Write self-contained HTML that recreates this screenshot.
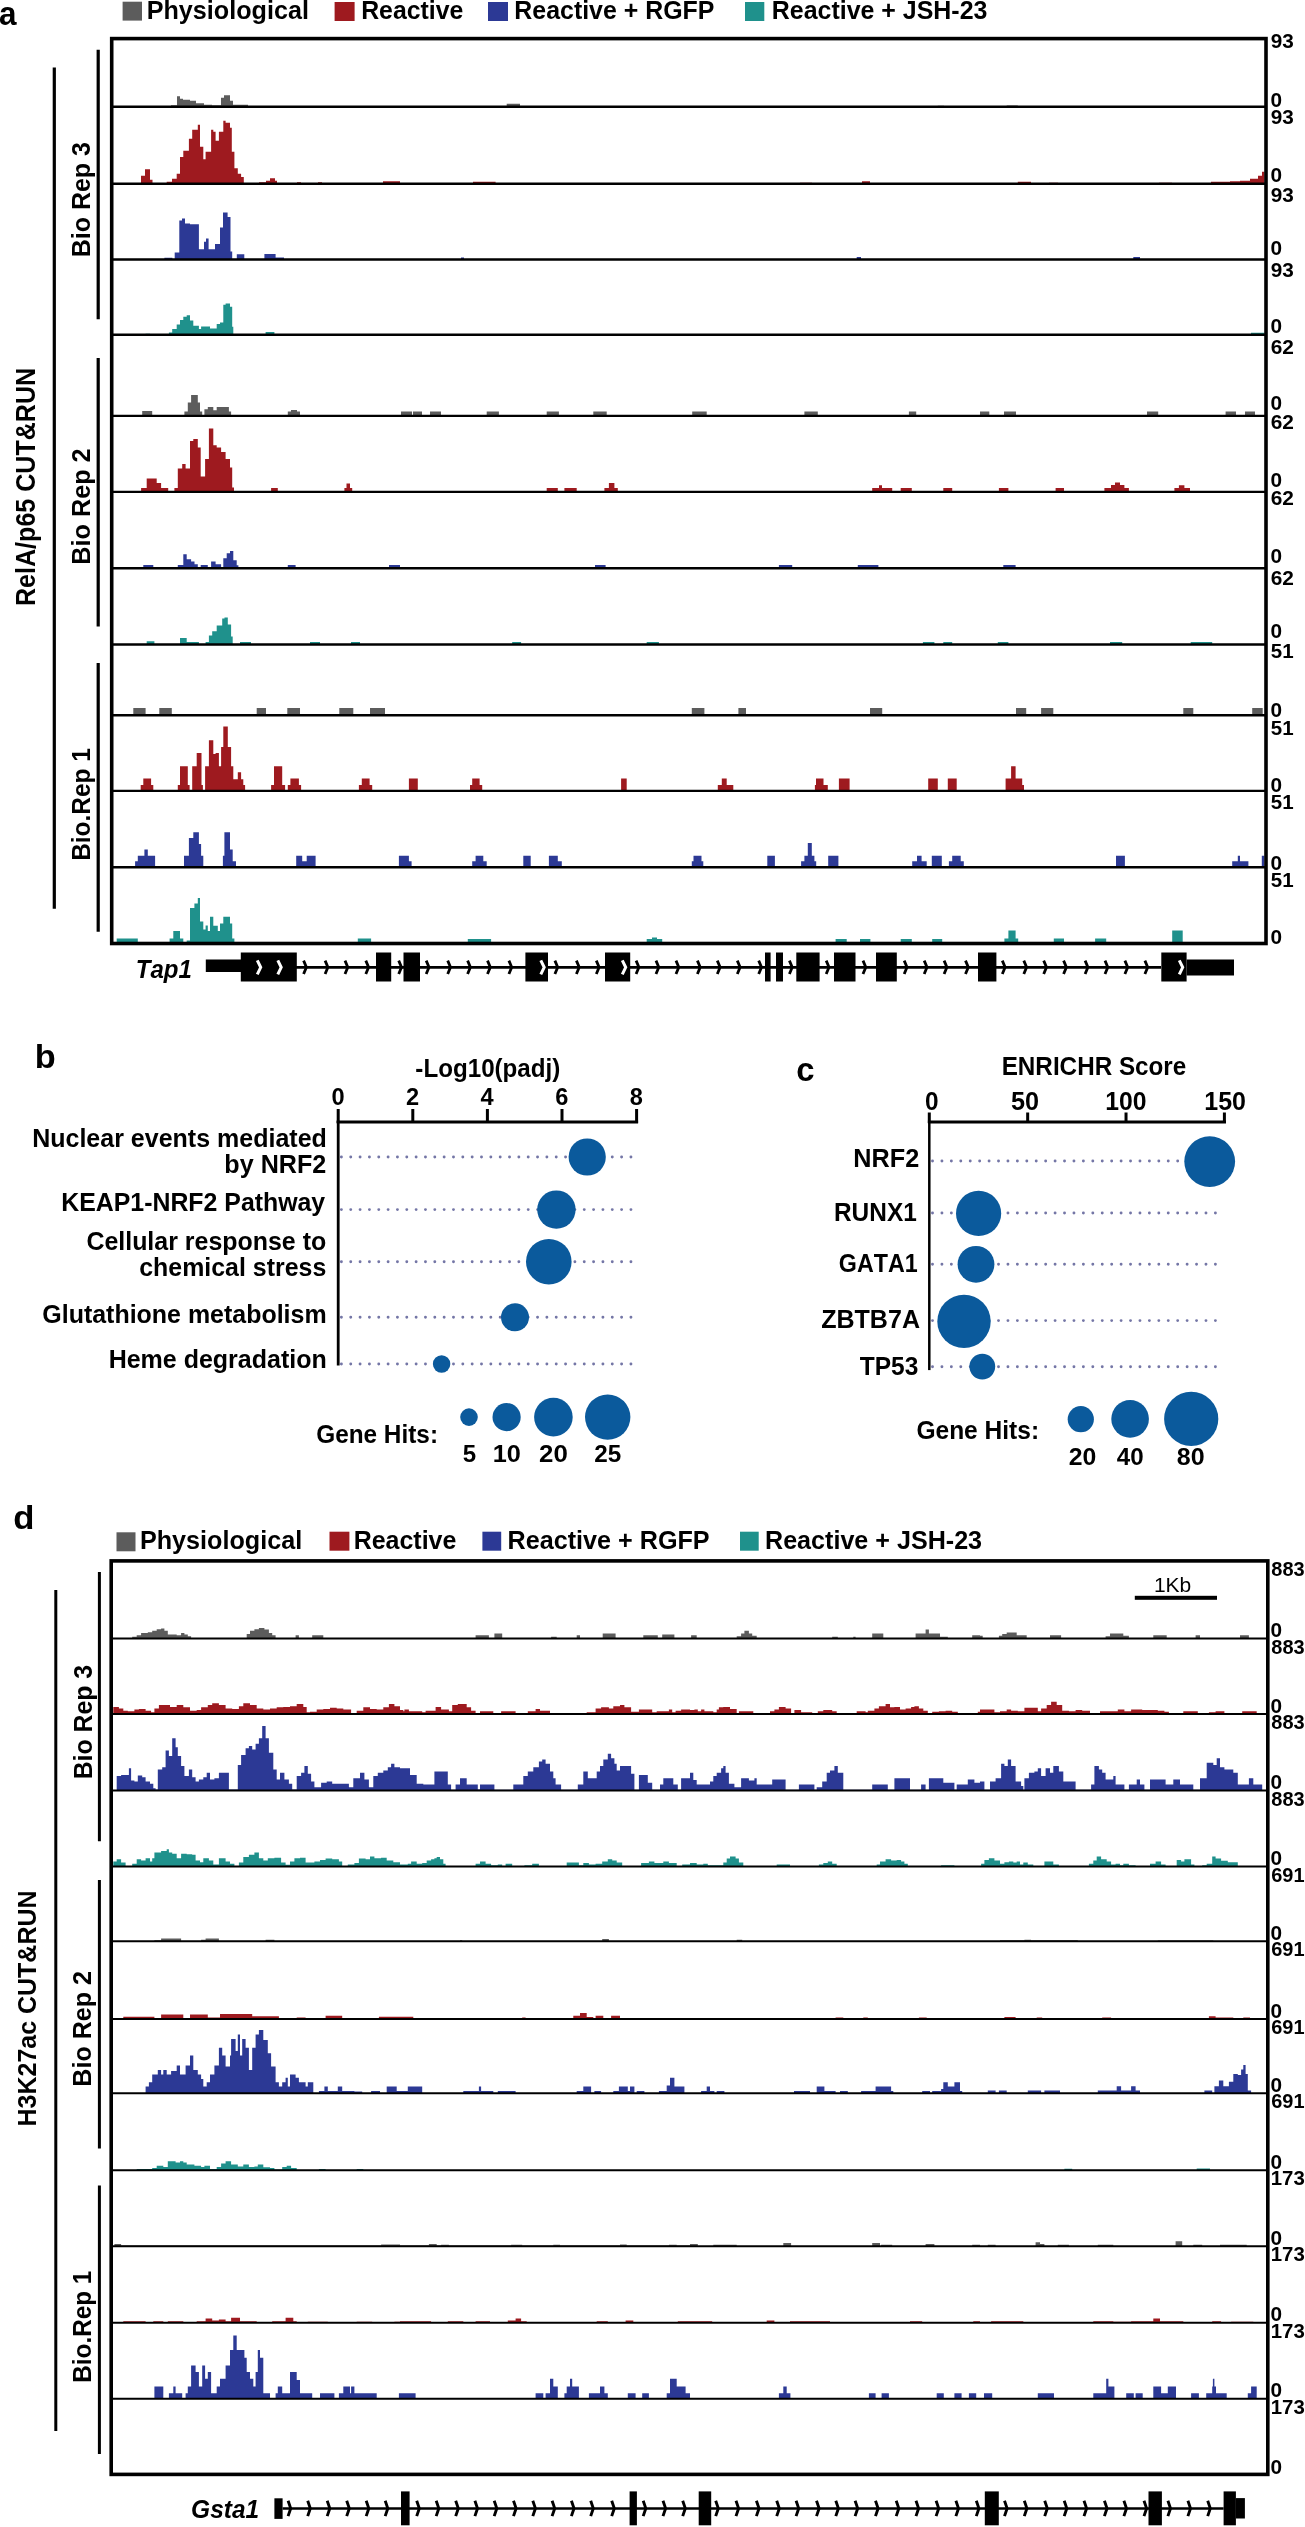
<!DOCTYPE html>
<html><head><meta charset="utf-8"><title>Figure</title>
<style>html,body{margin:0;padding:0;background:#fff;}svg{display:block;}text{font-family:"Liberation Sans",sans-serif;font-kerning:none;}</style>
</head><body>
<svg style="will-change:transform" width="1305" height="2527" viewBox="0 0 1305 2527">
<rect width="1305" height="2527" fill="#fff"/>
<text transform="translate(-0.92,25.00) scale(0.9405,1)" font-size="33.5" font-weight="bold" font-style="normal" fill="#000">a</text>
<rect x="122.60" y="1.70" width="19.40" height="18.90" fill="#5c5c5c"/>
<rect x="334.60" y="2.00" width="20.00" height="19.00" fill="#9e1a1f"/>
<rect x="488.00" y="2.00" width="20.00" height="19.00" fill="#2c3995"/>
<rect x="745.00" y="2.00" width="19.30" height="19.00" fill="#1f918c"/>
<text transform="translate(146.72,18.85) scale(0.9871,1)" font-size="25.5" font-weight="bold" font-style="normal" fill="#000">Physiological</text>
<text transform="translate(361.14,18.85) scale(0.9744,1)" font-size="25.5" font-weight="bold" font-style="normal" fill="#000">Reactive</text>
<text transform="translate(514.33,18.85) scale(0.9777,1)" font-size="25.5" font-weight="bold" font-style="normal" fill="#000">Reactive + RGFP</text>
<text transform="translate(771.83,18.85) scale(0.9780,1)" font-size="25.5" font-weight="bold" font-style="normal" fill="#000">Reactive + JSH-23</text>
<path d="M171.0 106.7V105.2H177.0V106.7ZM177.0 106.7V96.2H180.0V106.7ZM180.0 106.7V98.7H183.0V106.7ZM183.0 106.7V99.7H190.0V106.7ZM190.0 106.7V100.7H196.0V106.7ZM196.0 106.7V103.2H204.0V106.7ZM204.0 106.7V104.7H212.0V106.7ZM212.0 106.7V105.2H221.0V106.7ZM221.0 106.7V97.7H224.0V106.7ZM224.0 106.7V95.2H230.0V106.7ZM230.0 106.7V100.7H233.0V106.7ZM233.0 106.7V104.7H248.0V106.7ZM506.7 106.7V103.7H520.0V106.7ZM937.8 106.7V105.7H944.0V106.7ZM1006.7 106.7V105.5H1017.8V106.7ZM148.0 106.7V105.9H153.0V106.7Z" fill="#5c5c5c"/>
<path d="M141.0 183.7V175.7H145.0V183.7ZM145.0 183.7V169.3H150.0V183.7ZM150.0 183.7V179.7H152.5V183.7ZM166.7 183.7V181.7H172.0V183.7ZM172.0 183.7V178.7H176.7V183.7ZM176.7 183.7V173.7H180.0V183.7ZM180.0 183.7V157.0H183.3V183.7ZM183.3 183.7V150.7H188.9V183.7ZM188.9 183.7V138.7H192.2V183.7ZM192.2 183.7V129.7H197.8V183.7ZM197.8 183.7V124.7H200.0V183.7ZM200.0 183.7V146.7H203.3V183.7ZM203.3 183.7V159.3H205.6V183.7ZM205.6 183.7V151.7H211.1V183.7ZM211.1 183.7V129.7H213.3V183.7ZM213.3 183.7V131.7H215.6V183.7ZM215.6 183.7V140.7H218.9V183.7ZM218.9 183.7V131.7H223.3V183.7ZM223.3 183.7V120.7H225.6V183.7ZM225.6 183.7V122.7H230.0V183.7ZM230.0 183.7V127.7H231.8V183.7ZM231.8 183.7V151.7H234.4V183.7ZM234.4 183.7V168.2H237.8V183.7ZM237.8 183.7V173.7H241.1V183.7ZM241.1 183.7V177.0H243.8V183.7ZM259.0 183.7V182.2H266.0V183.7ZM266.0 183.7V180.7H270.0V183.7ZM270.0 183.7V178.2H275.0V183.7ZM275.0 183.7V180.7H277.0V183.7ZM297.0 183.7V182.2H301.0V183.7ZM318.0 183.7V182.2H322.0V183.7ZM383.0 183.7V181.2H400.0V183.7ZM473.0 183.7V181.7H495.6V183.7ZM800.0 183.7V182.7H812.0V183.7ZM862.0 183.7V181.2H870.0V183.7ZM1017.8 183.7V181.7H1031.0V183.7ZM1049.0 183.7V182.7H1058.0V183.7ZM1159.0 183.7V182.7H1172.0V183.7ZM1211.0 183.7V181.7H1230.0V183.7ZM1230.0 183.7V181.2H1240.0V183.7ZM1240.0 183.7V180.7H1250.0V183.7ZM1250.0 183.7V178.7H1258.0V183.7ZM1258.0 183.7V175.7H1262.0V183.7ZM1262.0 183.7V171.7H1264.5V183.7Z" fill="#9e1a1f"/>
<path d="M164.4 259.5V257.8H172.4V259.5ZM174.7 259.5V252.6H179.3V259.5ZM179.3 259.5V220.5H182.0V259.5ZM182.0 259.5V218.5H185.0V259.5ZM185.0 259.5V223.5H190.0V259.5ZM190.0 259.5V224.2H198.9V259.5ZM198.9 259.5V249.2H204.0V259.5ZM204.0 259.5V241.7H206.0V259.5ZM206.0 259.5V238.5H208.6V259.5ZM208.6 259.5V249.2H215.0V259.5ZM215.0 259.5V244.0H220.0V259.5ZM220.0 259.5V227.5H223.0V259.5ZM223.0 259.5V212.5H227.6V259.5ZM227.6 259.5V217.0H230.5V259.5ZM230.5 259.5V251.5H232.2V259.5ZM236.8 259.5V254.3H244.3V259.5ZM264.4 259.5V254.0H275.6V259.5ZM275.6 259.5V257.5H284.0V259.5ZM461.0 259.5V257.5H464.0V259.5ZM856.7 259.5V257.0H861.0V259.5ZM1133.3 259.5V257.0H1140.0V259.5Z" fill="#2c3995"/>
<path d="M145.6 334.8V333.8H150.0V334.8ZM168.9 334.8V332.4H172.2V334.8ZM172.2 334.8V329.0H176.7V334.8ZM176.7 334.8V324.6H180.0V334.8ZM180.0 334.8V320.1H183.3V334.8ZM183.3 334.8V316.8H186.7V334.8ZM186.7 334.8V315.3H190.0V334.8ZM190.0 334.8V320.6H193.3V334.8ZM193.3 334.8V325.8H198.9V334.8ZM198.9 334.8V329.0H201.1V334.8ZM201.1 334.8V326.4H210.0V334.8ZM210.0 334.8V328.6H216.7V334.8ZM216.7 334.8V324.1H220.0V334.8ZM220.0 334.8V322.4H223.3V334.8ZM223.3 334.8V304.8H225.6V334.8ZM225.6 334.8V303.5H230.0V334.8ZM230.0 334.8V306.8H232.2V334.8ZM232.2 334.8V326.8H233.3V334.8ZM265.6 334.8V332.0H274.4V334.8ZM1251.0 334.8V332.8H1264.5V334.8Z" fill="#1f918c"/>
<path d="M142.2 415.9V411.0H152.2V415.9ZM184.4 415.9V411.5H187.8V415.9ZM187.8 415.9V402.6H191.1V415.9ZM191.1 415.9V394.9H197.8V415.9ZM197.8 415.9V402.6H200.0V415.9ZM200.0 415.9V411.5H202.2V415.9ZM204.4 415.9V409.2H207.8V415.9ZM207.8 415.9V407.0H213.3V415.9ZM213.3 415.9V410.3H216.7V415.9ZM216.7 415.9V407.0H228.9V415.9ZM228.9 415.9V411.5H231.1V415.9ZM287.8 415.9V411.5H300.0V415.9ZM291.0 415.9V409.9H297.0V415.9ZM401.0 415.9V411.5H412.0V415.9ZM413.0 415.9V411.5H422.0V415.9ZM430.0 415.9V411.5H441.0V415.9ZM486.7 415.9V411.5H498.9V415.9ZM546.7 415.9V411.5H558.9V415.9ZM593.3 415.9V411.5H606.7V415.9ZM692.2 415.9V411.5H706.7V415.9ZM804.4 415.9V411.5H817.8V415.9ZM908.9 415.9V411.5H916.2V415.9ZM980.0 415.9V411.5H989.3V415.9ZM1004.0 415.9V411.5H1016.0V415.9ZM1147.0 415.9V411.5H1158.2V415.9ZM1225.6 415.9V411.5H1236.0V415.9ZM1245.0 415.9V411.5H1255.0V415.9Z" fill="#5c5c5c"/>
<path d="M141.1 491.9V487.9H146.7V491.9ZM146.7 491.9V478.6H156.7V491.9ZM156.7 491.9V483.0H161.1V491.9ZM161.1 491.9V487.9H168.2V491.9ZM174.4 491.9V487.9H177.8V491.9ZM177.8 491.9V468.6H182.2V491.9ZM182.2 491.9V464.1H185.6V491.9ZM185.6 491.9V468.6H190.0V491.9ZM190.0 491.9V440.9H193.3V491.9ZM193.3 491.9V438.9H197.8V491.9ZM197.8 491.9V447.5H200.7V491.9ZM200.7 491.9V476.4H205.1V491.9ZM205.1 491.9V458.9H208.9V491.9ZM208.9 491.9V428.6H213.3V491.9ZM213.3 491.9V445.2H216.7V491.9ZM216.7 491.9V447.5H221.1V491.9ZM221.1 491.9V451.9H225.6V491.9ZM225.6 491.9V458.9H230.0V491.9ZM230.0 491.9V467.5H232.2V491.9ZM232.2 491.9V487.5H234.0V491.9ZM271.1 491.9V487.9H277.8V491.9ZM344.4 491.9V487.9H352.2V491.9ZM346.5 491.9V483.5H350.0V491.9ZM546.7 491.9V487.9H557.8V491.9ZM564.4 491.9V487.9H576.7V491.9ZM604.4 491.9V487.9H617.8V491.9ZM872.2 491.9V487.9H892.2V491.9ZM900.7 491.9V487.9H911.8V491.9ZM943.3 491.9V487.9H952.2V491.9ZM998.9 491.9V487.9H1008.4V491.9ZM1055.6 491.9V487.9H1064.0V491.9ZM1104.4 491.9V487.9H1128.9V491.9ZM1174.4 491.9V487.9H1190.0V491.9ZM608.9 491.9V483.0H614.4V491.9ZM879.0 491.9V485.2H882.0V491.9ZM1111.0 491.9V484.9H1124.4V491.9ZM1115.0 491.9V482.4H1120.0V491.9ZM1178.9 491.9V485.2H1184.4V491.9Z" fill="#9e1a1f"/>
<path d="M143.3 568.3V565.0H153.3V568.3ZM177.8 568.3V565.0H183.3V568.3ZM183.3 568.3V554.3H186.7V568.3ZM186.7 568.3V559.3H191.1V568.3ZM191.1 568.3V561.6H194.5V568.3ZM194.5 568.3V564.3H197.8V568.3ZM200.7 568.3V565.0H207.8V568.3ZM211.1 568.3V561.6H215.6V568.3ZM215.6 568.3V564.3H221.1V568.3ZM223.3 568.3V558.3H226.7V568.3ZM226.7 568.3V553.3H230.0V568.3ZM230.0 568.3V551.0H233.3V568.3ZM233.3 568.3V560.3H236.7V568.3ZM236.7 568.3V565.3H238.4V568.3ZM287.8 568.3V565.0H295.6V568.3ZM389.0 568.3V565.0H400.0V568.3ZM595.0 568.3V565.0H605.6V568.3ZM778.9 568.3V565.0H792.2V568.3ZM857.8 568.3V565.0H878.4V568.3ZM1003.3 568.3V565.0H1015.6V568.3Z" fill="#2c3995"/>
<path d="M146.7 644.5V641.2H154.4V644.5ZM180.0 644.5V638.1H186.7V644.5ZM186.7 644.5V642.0H198.9V644.5ZM205.6 644.5V642.0H208.9V644.5ZM208.9 644.5V635.6H212.2V644.5ZM212.2 644.5V631.2H216.7V644.5ZM216.7 644.5V625.5H222.2V644.5ZM222.2 644.5V618.5H224.5V644.5ZM224.5 644.5V617.5H227.8V644.5ZM227.8 644.5V624.5H231.1V644.5ZM231.1 644.5V636.5H232.7V644.5ZM240.0 644.5V642.0H251.0V644.5ZM310.0 644.5V642.0H320.0V644.5ZM351.0 644.5V642.0H360.0V644.5ZM512.2 644.5V642.0H521.1V644.5ZM646.7 644.5V642.0H658.9V644.5ZM922.9 644.5V642.0H934.4V644.5ZM943.3 644.5V642.0H952.2V644.5ZM997.8 644.5V642.0H1008.4V644.5ZM1110.0 644.5V642.0H1122.2V644.5ZM1190.7 644.5V642.0H1212.2V644.5Z" fill="#1f918c"/>
<path d="M133.3 715.2V707.9H145.6V715.2ZM159.3 715.2V707.9H171.8V715.2ZM256.7 715.2V707.9H266.0V715.2ZM287.3 715.2V707.9H300.0V715.2ZM339.3 715.2V707.9H353.3V715.2ZM370.0 715.2V707.9H385.0V715.2ZM691.8 715.2V707.9H704.4V715.2ZM738.4 715.2V707.9H746.0V715.2ZM870.0 715.2V707.9H882.2V715.2ZM1016.0 715.2V707.9H1026.2V715.2ZM1041.1 715.2V707.9H1053.3V715.2ZM1183.3 715.2V707.9H1193.3V715.2ZM1252.2 715.2V707.9H1262.7V715.2Z" fill="#5c5c5c"/>
<path d="M140.7 790.9V785.1H143.3V790.9ZM143.3 790.9V778.5H151.1V790.9ZM151.1 790.9V785.1H153.3V790.9ZM177.8 790.9V785.1H180.0V790.9ZM180.0 790.9V766.2H187.8V790.9ZM187.8 790.9V785.1H189.6V790.9ZM192.2 790.9V766.2H196.7V790.9ZM196.7 790.9V752.9H201.5V790.9ZM201.5 790.9V785.1H202.9V790.9ZM205.1 790.9V766.2H208.9V790.9ZM208.9 790.9V740.2H213.3V790.9ZM213.3 790.9V753.9H215.6V790.9ZM215.6 790.9V752.9H218.9V790.9ZM218.9 790.9V766.2H221.1V790.9ZM221.1 790.9V746.9H223.3V790.9ZM223.3 790.9V726.5H227.8V790.9ZM227.8 790.9V746.9H231.1V790.9ZM231.1 790.9V766.2H233.3V790.9ZM233.3 790.9V779.3H237.8V790.9ZM237.8 790.9V772.2H241.1V790.9ZM241.1 790.9V779.3H243.3V790.9ZM243.3 790.9V785.1H245.1V790.9ZM271.1 790.9V785.1H274.0V790.9ZM274.0 790.9V766.2H282.2V790.9ZM282.2 790.9V785.1H285.1V790.9ZM287.8 790.9V785.1H290.4V790.9ZM290.4 790.9V778.5H298.9V790.9ZM298.9 790.9V785.1H301.1V790.9ZM358.9 790.9V785.1H361.8V790.9ZM361.8 790.9V778.5H369.6V790.9ZM369.6 790.9V785.1H372.2V790.9ZM408.9 790.9V778.5H417.8V790.9ZM470.0 790.9V785.1H472.2V790.9ZM472.2 790.9V778.5H479.6V790.9ZM479.6 790.9V785.1H482.2V790.9ZM621.1 790.9V778.5H626.7V790.9ZM717.8 790.9V785.1H721.8V790.9ZM721.8 790.9V778.5H726.7V790.9ZM726.7 790.9V785.1H733.3V790.9ZM814.9 790.9V785.1H816.0V790.9ZM816.0 790.9V778.5H823.5V790.9ZM823.5 790.9V785.1H827.8V790.9ZM838.9 790.9V778.5H849.6V790.9ZM928.2 790.9V778.5H937.8V790.9ZM947.8 790.9V778.5H956.7V790.9ZM1005.6 790.9V778.5H1011.1V790.9ZM1011.1 790.9V766.2H1015.6V790.9ZM1015.6 790.9V778.5H1022.2V790.9ZM1022.2 790.9V785.1H1024.0V790.9Z" fill="#9e1a1f"/>
<path d="M135.1 867.3V861.3H137.8V867.3ZM137.8 867.3V855.7H144.4V867.3ZM144.4 867.3V849.5H147.8V867.3ZM147.8 867.3V855.7H155.1V867.3ZM184.0 867.3V855.7H188.9V867.3ZM188.9 867.3V838.0H193.3V867.3ZM193.3 867.3V832.3H198.9V867.3ZM198.9 867.3V844.0H201.1V867.3ZM201.1 867.3V855.7H203.3V867.3ZM222.9 867.3V855.7H224.4V867.3ZM224.4 867.3V832.3H230.0V867.3ZM230.0 867.3V849.5H232.7V867.3ZM232.7 867.3V861.3H236.0V867.3ZM296.2 867.3V855.7H302.2V867.3ZM302.2 867.3V861.3H306.7V867.3ZM306.7 867.3V855.7H315.6V867.3ZM398.9 867.3V855.7H408.9V867.3ZM408.9 867.3V861.3H411.6V867.3ZM472.2 867.3V861.3H475.6V867.3ZM475.6 867.3V855.7H483.3V867.3ZM483.3 867.3V861.3H486.7V867.3ZM523.3 867.3V855.7H530.7V867.3ZM548.9 867.3V855.7H557.8V867.3ZM557.8 867.3V861.3H561.8V867.3ZM691.8 867.3V861.3H693.5V867.3ZM693.5 867.3V855.7H701.5V867.3ZM701.5 867.3V861.3H703.3V867.3ZM767.3 867.3V855.7H774.9V867.3ZM801.1 867.3V861.3H804.4V867.3ZM804.4 867.3V855.7H807.8V867.3ZM807.8 867.3V843.1H811.8V867.3ZM811.8 867.3V855.7H814.4V867.3ZM814.4 867.3V861.3H816.2V867.3ZM828.2 867.3V855.7H838.4V867.3ZM912.2 867.3V861.3H917.0V867.3ZM917.0 867.3V855.7H921.6V867.3ZM921.6 867.3V861.3H926.7V867.3ZM931.8 867.3V855.7H941.8V867.3ZM948.9 867.3V861.3H952.2V867.3ZM952.2 867.3V855.7H960.7V867.3ZM960.7 867.3V861.3H963.8V867.3ZM1116.0 867.3V855.7H1124.9V867.3ZM1232.2 867.3V861.3H1248.4V867.3ZM1237.8 867.3V855.7H1240.0V867.3ZM1261.8 867.3V855.7H1264.4V867.3Z" fill="#2c3995"/>
<path d="M116.7 943.5V938.4H137.8V943.5ZM169.6 943.5V938.5H173.3V943.5ZM173.3 943.5V931.1H180.0V943.5ZM180.0 943.5V938.5H183.3V943.5ZM186.7 943.5V940.5H190.0V943.5ZM190.0 943.5V907.9H194.4V943.5ZM194.4 943.5V903.5H197.8V943.5ZM197.8 943.5V897.9H200.0V943.5ZM200.0 943.5V921.5H203.3V943.5ZM203.3 943.5V929.5H205.6V943.5ZM205.6 943.5V925.5H207.8V943.5ZM207.8 943.5V931.1H210.0V943.5ZM210.0 943.5V916.8H213.3V943.5ZM213.3 943.5V925.7H217.8V943.5ZM217.8 943.5V931.1H220.0V943.5ZM220.0 943.5V923.5H223.3V943.5ZM223.3 943.5V916.8H230.0V943.5ZM230.0 943.5V923.5H232.2V943.5ZM232.2 943.5V938.5H234.4V943.5ZM357.8 943.5V938.5H371.1V943.5ZM467.8 943.5V939.0H491.1V943.5ZM646.7 943.5V939.0H662.2V943.5ZM652.0 943.5V937.5H657.0V943.5ZM835.6 943.5V939.0H846.7V943.5ZM860.0 943.5V939.0H870.4V943.5ZM900.7 943.5V939.0H911.8V943.5ZM932.2 943.5V939.0H942.2V943.5ZM1004.4 943.5V938.5H1008.4V943.5ZM1008.4 943.5V930.6H1015.6V943.5ZM1015.6 943.5V938.5H1018.2V943.5ZM1053.8 943.5V938.5H1064.0V943.5ZM1095.1 943.5V938.5H1106.2V943.5ZM1172.2 943.5V930.6H1182.7V943.5Z" fill="#1f918c"/>
<line x1="111.70" y1="106.70" x2="1266.00" y2="106.70" stroke="#000" stroke-width="2.4" />
<line x1="111.70" y1="183.70" x2="1266.00" y2="183.70" stroke="#000" stroke-width="2.4" />
<line x1="111.70" y1="259.50" x2="1266.00" y2="259.50" stroke="#000" stroke-width="2.4" />
<line x1="111.70" y1="334.80" x2="1266.00" y2="334.80" stroke="#000" stroke-width="2.4" />
<line x1="111.70" y1="415.90" x2="1266.00" y2="415.90" stroke="#000" stroke-width="2.4" />
<line x1="111.70" y1="491.90" x2="1266.00" y2="491.90" stroke="#000" stroke-width="2.4" />
<line x1="111.70" y1="568.30" x2="1266.00" y2="568.30" stroke="#000" stroke-width="2.4" />
<line x1="111.70" y1="644.50" x2="1266.00" y2="644.50" stroke="#000" stroke-width="2.4" />
<line x1="111.70" y1="715.20" x2="1266.00" y2="715.20" stroke="#000" stroke-width="2.4" />
<line x1="111.70" y1="790.90" x2="1266.00" y2="790.90" stroke="#000" stroke-width="2.4" />
<line x1="111.70" y1="867.30" x2="1266.00" y2="867.30" stroke="#000" stroke-width="2.4" />
<rect x="111.7" y="38.6" width="1154.30" height="904.90" fill="none" stroke="#000" stroke-width="3.6"/>
<text transform="translate(1270.68,48.46) scale(0.9876,1)" font-size="21" font-weight="bold" font-style="normal" fill="#000">93</text>
<text transform="translate(1270.38,106.56) scale(0.9913,1)" font-size="21" font-weight="bold" font-style="normal" fill="#000">0</text>
<text transform="translate(1270.68,124.06) scale(0.9876,1)" font-size="21" font-weight="bold" font-style="normal" fill="#000">93</text>
<text transform="translate(1270.38,181.76) scale(0.9913,1)" font-size="21" font-weight="bold" font-style="normal" fill="#000">0</text>
<text transform="translate(1270.68,201.96) scale(0.9876,1)" font-size="21" font-weight="bold" font-style="normal" fill="#000">93</text>
<text transform="translate(1270.38,254.86) scale(0.9913,1)" font-size="21" font-weight="bold" font-style="normal" fill="#000">0</text>
<text transform="translate(1270.68,276.96) scale(0.9876,1)" font-size="21" font-weight="bold" font-style="normal" fill="#000">93</text>
<text transform="translate(1270.38,332.96) scale(0.9913,1)" font-size="21" font-weight="bold" font-style="normal" fill="#000">0</text>
<text transform="translate(1270.64,353.86) scale(0.9932,1)" font-size="21" font-weight="bold" font-style="normal" fill="#000">62</text>
<text transform="translate(1270.38,409.86) scale(0.9913,1)" font-size="21" font-weight="bold" font-style="normal" fill="#000">0</text>
<text transform="translate(1270.64,429.26) scale(0.9932,1)" font-size="21" font-weight="bold" font-style="normal" fill="#000">62</text>
<text transform="translate(1270.38,486.76) scale(0.9913,1)" font-size="21" font-weight="bold" font-style="normal" fill="#000">0</text>
<text transform="translate(1270.64,505.06) scale(0.9932,1)" font-size="21" font-weight="bold" font-style="normal" fill="#000">62</text>
<text transform="translate(1270.38,563.26) scale(0.9913,1)" font-size="21" font-weight="bold" font-style="normal" fill="#000">0</text>
<text transform="translate(1270.64,585.26) scale(0.9932,1)" font-size="21" font-weight="bold" font-style="normal" fill="#000">62</text>
<text transform="translate(1270.38,637.96) scale(0.9913,1)" font-size="21" font-weight="bold" font-style="normal" fill="#000">0</text>
<text transform="translate(1270.77,658.46) scale(0.9761,1)" font-size="21" font-weight="bold" font-style="normal" fill="#000">51</text>
<text transform="translate(1270.38,716.76) scale(0.9913,1)" font-size="21" font-weight="bold" font-style="normal" fill="#000">0</text>
<text transform="translate(1270.77,734.86) scale(0.9761,1)" font-size="21" font-weight="bold" font-style="normal" fill="#000">51</text>
<text transform="translate(1270.38,791.76) scale(0.9913,1)" font-size="21" font-weight="bold" font-style="normal" fill="#000">0</text>
<text transform="translate(1270.77,808.86) scale(0.9761,1)" font-size="21" font-weight="bold" font-style="normal" fill="#000">51</text>
<text transform="translate(1270.38,869.96) scale(0.9913,1)" font-size="21" font-weight="bold" font-style="normal" fill="#000">0</text>
<text transform="translate(1270.77,886.86) scale(0.9761,1)" font-size="21" font-weight="bold" font-style="normal" fill="#000">51</text>
<text transform="translate(1270.38,943.96) scale(0.9913,1)" font-size="21" font-weight="bold" font-style="normal" fill="#000">0</text>
<line x1="54.30" y1="67.60" x2="54.30" y2="908.70" stroke="#000" stroke-width="3.2" />
<line x1="98.20" y1="49.80" x2="98.20" y2="319.30" stroke="#000" stroke-width="3.2" />
<line x1="98.20" y1="358.00" x2="98.20" y2="626.40" stroke="#000" stroke-width="3.2" />
<line x1="98.20" y1="663.00" x2="98.20" y2="931.70" stroke="#000" stroke-width="3.2" />
<text transform="translate(35.20,605.98) rotate(-90) scale(0.9358,1)" font-size="26.8" font-weight="bold">RelA/p65 CUT&RUN</text>
<text transform="translate(90.10,257.27) rotate(-90) scale(0.9605,1)" font-size="26" font-weight="bold">Bio Rep 3</text>
<text transform="translate(90.10,564.69) rotate(-90) scale(0.9699,1)" font-size="26" font-weight="bold">Bio Rep 2</text>
<text transform="translate(90.00,860.83) rotate(-90) scale(0.9400,1)" font-size="26" font-weight="bold">Bio.Rep 1</text>
<text transform="translate(135.80,978.40) scale(0.9243,1)" font-size="26" font-weight="bold" font-style="italic" fill="#000">Tap1</text>
<line x1="241.00" y1="967.40" x2="1161.00" y2="967.40" stroke="#000" stroke-width="2.9" />
<rect x="205.80" y="959.50" width="35.20" height="12.50" fill="#000"/>
<rect x="1186.60" y="959.50" width="47.40" height="16.00" fill="#000"/>
<rect x="240.80" y="952.50" width="56.00" height="29.00" fill="#000"/>
<rect x="376.00" y="952.50" width="15.20" height="29.00" fill="#000"/>
<rect x="403.50" y="952.50" width="16.50" height="29.00" fill="#000"/>
<rect x="525.40" y="952.50" width="22.60" height="29.00" fill="#000"/>
<rect x="605.00" y="952.50" width="25.20" height="29.00" fill="#000"/>
<rect x="765.00" y="952.50" width="5.60" height="29.00" fill="#000"/>
<rect x="776.00" y="952.50" width="7.00" height="29.00" fill="#000"/>
<rect x="796.30" y="952.50" width="23.30" height="29.00" fill="#000"/>
<rect x="834.00" y="952.50" width="21.50" height="29.00" fill="#000"/>
<rect x="876.00" y="952.50" width="20.80" height="29.00" fill="#000"/>
<rect x="978.00" y="952.50" width="18.40" height="29.00" fill="#000"/>
<rect x="1161.30" y="952.50" width="25.30" height="29.00" fill="#000"/>
<path d="M303.6 960.6L306.4 967.3L303.6 974.0M325.1 960.6L327.9 967.3L325.1 974.0M345.0 960.6L347.8 967.3L345.0 974.0M365.8 960.6L368.6 967.3L365.8 974.0M398.7 960.6L401.5 967.3L398.7 974.0M426.2 960.6L429.0 967.3L426.2 974.0M447.7 960.6L450.5 967.3L447.7 974.0M467.6 960.6L470.4 967.3L467.6 974.0M487.5 960.6L490.3 967.3L487.5 974.0M508.9 960.6L511.7 967.3L508.9 974.0M554.9 960.6L557.7 967.3L554.9 974.0M576.4 960.6L579.2 967.3L576.4 974.0M596.3 960.6L599.1 967.3L596.3 974.0M636.1 960.6L638.9 967.3L636.1 974.0M656.0 960.6L658.8 967.3L656.0 974.0M676.0 960.6L678.8 967.3L676.0 974.0M697.4 960.6L700.2 967.3L697.4 974.0M717.3 960.6L720.1 967.3L717.3 974.0M737.3 960.6L740.1 967.3L737.3 974.0M758.7 960.6L761.5 967.3L758.7 974.0M789.4 960.6L792.2 967.3L789.4 974.0M826.2 960.6L829.0 967.3L826.2 974.0M863.0 960.6L865.8 967.3L863.0 974.0M904.2 960.6L907.0 967.3L904.2 974.0M924.2 960.6L927.0 967.3L924.2 974.0M944.1 960.6L946.9 967.3L944.1 974.0M965.5 960.6L968.3 967.3L965.5 974.0M1002.3 960.6L1005.1 967.3L1002.3 974.0M1023.8 960.6L1026.6 967.3L1023.8 974.0M1043.7 960.6L1046.5 967.3L1043.7 974.0M1063.6 960.6L1066.4 967.3L1063.6 974.0M1085.1 960.6L1087.9 967.3L1085.1 974.0M1105.0 960.6L1107.8 967.3L1105.0 974.0M1124.9 960.6L1127.7 967.3L1124.9 974.0M1144.9 960.6L1147.7 967.3L1144.9 974.0" fill="none" stroke="#000" stroke-width="2.8" stroke-linejoin="miter" stroke-linecap="butt"/>
<path d="M257.3 960.3L260.7 967.3L257.3 974.3M277.8 960.3L281.2 967.3L277.8 974.3M540.8 960.3L544.2 967.3L540.8 974.3M622.3 960.3L625.7 967.3L622.3 974.3M1179.3 960.3L1182.7 967.3L1179.3 974.3" fill="none" stroke="#fff" stroke-width="3.0" stroke-linejoin="miter" stroke-linecap="butt"/>
<text transform="translate(34.74,1068.20) scale(1.0248,1)" font-size="33.5" font-weight="bold" font-style="normal" fill="#000">b</text>
<text transform="translate(415.36,1076.50) scale(0.9671,1)" font-size="25" font-weight="bold" font-style="normal" fill="#000">-Log10(padj)</text>
<line x1="336.70" y1="1122.00" x2="638.10" y2="1122.00" stroke="#000" stroke-width="3.0" />
<line x1="338.20" y1="1109.00" x2="338.20" y2="1123.00" stroke="#000" stroke-width="3.0" />
<text transform="translate(331.45,1105.30) scale(1.0000,1)" font-size="23.6" font-weight="bold" font-style="normal" fill="#000">0</text>
<line x1="412.80" y1="1109.00" x2="412.80" y2="1123.00" stroke="#000" stroke-width="3.0" />
<text transform="translate(406.10,1105.30) scale(1.0000,1)" font-size="23.6" font-weight="bold" font-style="normal" fill="#000">2</text>
<line x1="487.40" y1="1109.00" x2="487.40" y2="1123.00" stroke="#000" stroke-width="3.0" />
<text transform="translate(480.52,1105.30) scale(1.0000,1)" font-size="23.6" font-weight="bold" font-style="normal" fill="#000">4</text>
<line x1="562.00" y1="1109.00" x2="562.00" y2="1123.00" stroke="#000" stroke-width="3.0" />
<text transform="translate(555.23,1105.30) scale(1.0000,1)" font-size="23.6" font-weight="bold" font-style="normal" fill="#000">6</text>
<line x1="636.60" y1="1109.00" x2="636.60" y2="1123.00" stroke="#000" stroke-width="3.0" />
<text transform="translate(629.83,1105.30) scale(1.0000,1)" font-size="23.6" font-weight="bold" font-style="normal" fill="#000">8</text>
<line x1="338.20" y1="1120.80" x2="338.20" y2="1365.50" stroke="#000" stroke-width="2.8" />
<line x1="341.4" y1="1157" x2="636" y2="1157" stroke="#7476a6" stroke-width="2.9" stroke-dasharray="0.01 9.33" stroke-linecap="round"/>
<line x1="341.4" y1="1209.6" x2="636" y2="1209.6" stroke="#7476a6" stroke-width="2.9" stroke-dasharray="0.01 9.33" stroke-linecap="round"/>
<line x1="341.4" y1="1261.7" x2="636" y2="1261.7" stroke="#7476a6" stroke-width="2.9" stroke-dasharray="0.01 9.33" stroke-linecap="round"/>
<line x1="341.4" y1="1317.3" x2="636" y2="1317.3" stroke="#7476a6" stroke-width="2.9" stroke-dasharray="0.01 9.33" stroke-linecap="round"/>
<line x1="341.4" y1="1364" x2="636" y2="1364" stroke="#7476a6" stroke-width="2.9" stroke-dasharray="0.01 9.33" stroke-linecap="round"/>
<circle cx="587.2" cy="1157" r="18.6" fill="#0b5a9c"/>
<circle cx="556.4" cy="1209.6" r="19.2" fill="#0b5a9c"/>
<circle cx="548.8" cy="1261.7" r="22.8" fill="#0b5a9c"/>
<circle cx="515" cy="1317.3" r="14" fill="#0b5a9c"/>
<circle cx="441.6" cy="1364" r="8.7" fill="#0b5a9c"/>
<text transform="translate(32.13,1147.20) scale(0.9698,1)" font-size="25.8" font-weight="bold" font-style="normal" fill="#000">Nuclear events mediated</text>
<text transform="translate(224.34,1172.90) scale(0.9743,1)" font-size="25.8" font-weight="bold" font-style="normal" fill="#000">by NRF2</text>
<text transform="translate(61.23,1211.40) scale(0.9648,1)" font-size="25.8" font-weight="bold" font-style="normal" fill="#000">KEAP1-NRF2 Pathway</text>
<text transform="translate(86.38,1250.20) scale(0.9672,1)" font-size="25.8" font-weight="bold" font-style="normal" fill="#000">Cellular response to</text>
<text transform="translate(139.23,1275.90) scale(0.9663,1)" font-size="25.8" font-weight="bold" font-style="normal" fill="#000">chemical stress</text>
<text transform="translate(42.28,1322.50) scale(0.9684,1)" font-size="25.8" font-weight="bold" font-style="normal" fill="#000">Glutathione metabolism</text>
<text transform="translate(108.63,1367.60) scale(0.9695,1)" font-size="25.8" font-weight="bold" font-style="normal" fill="#000">Heme degradation</text>
<text transform="translate(316.20,1443.20) scale(0.9746,1)" font-size="25" font-weight="bold" font-style="normal" fill="#000">Gene Hits:</text>
<circle cx="469" cy="1417.1" r="8.8" fill="#0b5a9c"/>
<circle cx="506.6" cy="1417.1" r="14.1" fill="#0b5a9c"/>
<circle cx="553.4" cy="1417.1" r="19.3" fill="#0b5a9c"/>
<circle cx="607.7" cy="1417.1" r="22.7" fill="#0b5a9c"/>
<text transform="translate(462.86,1462.00) scale(0.9925,1)" font-size="24.3" font-weight="bold" font-style="normal" fill="#000">5</text>
<text transform="translate(492.81,1462.00) scale(1.0407,1)" font-size="24.3" font-weight="bold" font-style="normal" fill="#000">10</text>
<text transform="translate(539.10,1462.00) scale(1.0639,1)" font-size="24.3" font-weight="bold" font-style="normal" fill="#000">20</text>
<text transform="translate(594.16,1462.00) scale(0.9996,1)" font-size="24.3" font-weight="bold" font-style="normal" fill="#000">25</text>
<text transform="translate(796.32,1080.80) scale(0.9791,1)" font-size="33.5" font-weight="bold" font-style="normal" fill="#000">c</text>
<text transform="translate(1001.68,1075.30) scale(0.9549,1)" font-size="25.4" font-weight="bold" font-style="normal" fill="#000">ENRICHR Score</text>
<line x1="927.90" y1="1122.00" x2="1226.00" y2="1122.00" stroke="#000" stroke-width="3.0" />
<line x1="929.30" y1="1112.50" x2="929.30" y2="1123.00" stroke="#000" stroke-width="3.0" />
<line x1="1027.67" y1="1112.50" x2="1027.67" y2="1123.00" stroke="#000" stroke-width="3.0" />
<line x1="1126.03" y1="1112.50" x2="1126.03" y2="1123.00" stroke="#000" stroke-width="3.0" />
<line x1="1224.40" y1="1112.50" x2="1224.40" y2="1123.00" stroke="#000" stroke-width="3.0" />
<text transform="translate(924.94,1110.40) scale(0.9381,1)" font-size="26" font-weight="bold" font-style="normal" fill="#000">0</text>
<text transform="translate(1010.92,1110.40) scale(0.9721,1)" font-size="26" font-weight="bold" font-style="normal" fill="#000">50</text>
<text transform="translate(1105.34,1110.40) scale(0.9514,1)" font-size="26" font-weight="bold" font-style="normal" fill="#000">100</text>
<text transform="translate(1204.23,1110.40) scale(0.9613,1)" font-size="26" font-weight="bold" font-style="normal" fill="#000">150</text>
<line x1="929.30" y1="1121.00" x2="929.30" y2="1370.10" stroke="#000" stroke-width="2.5" />
<line x1="932.5" y1="1161" x2="1224" y2="1161" stroke="#7476a6" stroke-width="2.9" stroke-dasharray="0.01 9.42" stroke-linecap="round"/>
<line x1="932.5" y1="1213" x2="1224" y2="1213" stroke="#7476a6" stroke-width="2.9" stroke-dasharray="0.01 9.42" stroke-linecap="round"/>
<line x1="932.5" y1="1264.3" x2="1224" y2="1264.3" stroke="#7476a6" stroke-width="2.9" stroke-dasharray="0.01 9.42" stroke-linecap="round"/>
<line x1="932.5" y1="1320.6" x2="1224" y2="1320.6" stroke="#7476a6" stroke-width="2.9" stroke-dasharray="0.01 9.42" stroke-linecap="round"/>
<line x1="932.5" y1="1366.8" x2="1224" y2="1366.8" stroke="#7476a6" stroke-width="2.9" stroke-dasharray="0.01 9.42" stroke-linecap="round"/>
<circle cx="1209.7" cy="1161.6" r="25.4" fill="#0b5a9c"/>
<circle cx="978.6" cy="1213.4" r="22.6" fill="#0b5a9c"/>
<circle cx="976" cy="1264.3" r="18.4" fill="#0b5a9c"/>
<circle cx="964" cy="1321.4" r="26.7" fill="#0b5a9c"/>
<circle cx="982.3" cy="1366.6" r="12.9" fill="#0b5a9c"/>
<text transform="translate(853.31,1166.80) scale(0.9706,1)" font-size="26" font-weight="bold" font-style="normal" fill="#000">NRF2</text>
<text transform="translate(833.97,1220.90) scale(0.9397,1)" font-size="26" font-weight="bold" font-style="normal" fill="#000">RUNX1</text>
<text transform="translate(838.85,1272.10) scale(0.8954,1)" font-size="26" font-weight="bold" font-style="normal" fill="#000">GATA1</text>
<text transform="translate(821.15,1327.80) scale(0.9645,1)" font-size="26" font-weight="bold" font-style="normal" fill="#000">ZBTB7A</text>
<text transform="translate(859.82,1375.10) scale(0.9423,1)" font-size="26" font-weight="bold" font-style="normal" fill="#000">TP53</text>
<text transform="translate(916.39,1438.50) scale(0.9820,1)" font-size="25" font-weight="bold" font-style="normal" fill="#000">Gene Hits:</text>
<circle cx="1080.8" cy="1419.2" r="13.1" fill="#0b5a9c"/>
<circle cx="1130.1" cy="1418.9" r="18.8" fill="#0b5a9c"/>
<circle cx="1191.2" cy="1418.9" r="27.1" fill="#0b5a9c"/>
<text transform="translate(1068.64,1465.00) scale(1.0203,1)" font-size="24.3" font-weight="bold" font-style="normal" fill="#000">20</text>
<text transform="translate(1116.83,1465.00) scale(0.9936,1)" font-size="24.3" font-weight="bold" font-style="normal" fill="#000">40</text>
<text transform="translate(1176.81,1465.00) scale(1.0293,1)" font-size="24.3" font-weight="bold" font-style="normal" fill="#000">80</text>
<text transform="translate(13.28,1529.00) scale(1.0367,1)" font-size="33.5" font-weight="bold" font-style="normal" fill="#000">d</text>
<rect x="116.50" y="1532.30" width="19.00" height="19.00" fill="#5c5c5c"/>
<rect x="329.50" y="1531.70" width="19.90" height="19.00" fill="#9e1a1f"/>
<rect x="482.40" y="1531.70" width="18.80" height="19.00" fill="#2c3995"/>
<rect x="740.00" y="1531.70" width="18.70" height="19.00" fill="#1f918c"/>
<text transform="translate(139.92,1548.90) scale(0.9871,1)" font-size="25.5" font-weight="bold" font-style="normal" fill="#000">Physiological</text>
<text transform="translate(353.63,1548.90) scale(0.9802,1)" font-size="25.5" font-weight="bold" font-style="normal" fill="#000">Reactive</text>
<text transform="translate(507.52,1548.90) scale(0.9870,1)" font-size="25.5" font-weight="bold" font-style="normal" fill="#000">Reactive + RGFP</text>
<text transform="translate(765.02,1548.90) scale(0.9853,1)" font-size="25.5" font-weight="bold" font-style="normal" fill="#000">Reactive + JSH-23</text>
<path d="M132.2 1638.5V1636.7H136.7V1638.5ZM136.7 1638.5V1635.2H141.1V1638.5ZM141.1 1638.5V1632.9H147.8V1638.5ZM147.8 1638.5V1632.3H152.2V1638.5ZM152.2 1638.5V1630.7H156.7V1638.5ZM156.7 1638.5V1629.2H161.1V1638.5ZM161.1 1638.5V1628.5H164.4V1638.5ZM164.4 1638.5V1630.7H167.8V1638.5ZM167.8 1638.5V1634.5H176.7V1638.5ZM176.7 1638.5V1635.2H181.1V1638.5ZM181.1 1638.5V1632.9H184.4V1638.5ZM184.4 1638.5V1634.5H187.8V1638.5ZM187.8 1638.5V1636.3H191.1V1638.5ZM246.7 1638.5V1634.1H250.0V1638.5ZM250.0 1638.5V1630.7H254.4V1638.5ZM254.4 1638.5V1629.2H258.9V1638.5ZM258.9 1638.5V1628.1H264.4V1638.5ZM264.4 1638.5V1629.6H268.9V1638.5ZM268.9 1638.5V1632.9H272.2V1638.5ZM272.2 1638.5V1635.2H275.6V1638.5ZM295.6 1638.5V1635.2H298.9V1638.5ZM312.2 1638.5V1635.2H323.3V1638.5ZM475.6 1638.5V1635.2H488.9V1638.5ZM494.4 1638.5V1633.6H502.2V1638.5ZM551.1 1638.5V1636.7H556.7V1638.5ZM576.7 1638.5V1635.2H580.0V1638.5ZM602.7 1638.5V1633.4H615.6V1638.5ZM643.3 1638.5V1635.2H657.8V1638.5ZM662.2 1638.5V1634.5H674.4V1638.5ZM691.1 1638.5V1635.2H696.7V1638.5ZM736.7 1638.5V1636.3H741.1V1638.5ZM741.1 1638.5V1633.6H744.4V1638.5ZM744.4 1638.5V1630.7H748.9V1638.5ZM748.9 1638.5V1633.6H752.2V1638.5ZM752.2 1638.5V1635.8H756.7V1638.5ZM832.2 1638.5V1636.7H837.8V1638.5ZM853.3 1638.5V1636.7H855.6V1638.5ZM872.2 1638.5V1633.5H883.3V1638.5ZM915.6 1638.5V1633.6H925.6V1638.5ZM925.6 1638.5V1629.6H928.9V1638.5ZM928.9 1638.5V1633.6H940.0V1638.5ZM940.0 1638.5V1636.7H947.8V1638.5ZM972.2 1638.5V1635.2H980.0V1638.5ZM980.0 1638.5V1635.8H982.7V1638.5ZM998.9 1638.5V1635.8H1002.2V1638.5ZM1002.2 1638.5V1634.1H1006.7V1638.5ZM1006.7 1638.5V1632.5H1016.7V1638.5ZM1016.7 1638.5V1635.2H1026.7V1638.5ZM1050.0 1638.5V1635.2H1061.1V1638.5ZM1105.6 1638.5V1636.3H1110.0V1638.5ZM1110.0 1638.5V1633.6H1123.3V1638.5ZM1123.3 1638.5V1635.8H1128.9V1638.5ZM1153.3 1638.5V1635.2H1166.7V1638.5ZM1195.6 1638.5V1635.2H1200.0V1638.5ZM1240.0 1638.5V1635.2H1248.9V1638.5Z" fill="#5c5c5c"/>
<path d="M113.3 1714.0V1706.9H118.9V1714.0ZM118.9 1714.0V1708.4H123.3V1714.0ZM123.3 1714.0V1710.7H127.8V1714.0ZM127.8 1714.0V1711.3H134.4V1714.0ZM134.4 1714.0V1709.6H138.9V1714.0ZM138.9 1714.0V1709.1H145.6V1714.0ZM145.6 1714.0V1710.7H151.1V1714.0ZM151.1 1714.0V1712.2H154.4V1714.0ZM154.4 1714.0V1708.4H158.9V1714.0ZM158.9 1714.0V1705.1H165.6V1714.0ZM165.6 1714.0V1705.1H170.0V1714.0ZM170.0 1714.0V1706.9H176.7V1714.0ZM176.7 1714.0V1705.1H183.3V1714.0ZM183.3 1714.0V1707.3H190.0V1714.0ZM190.0 1714.0V1710.7H196.7V1714.0ZM196.7 1714.0V1710.0H201.1V1714.0ZM201.1 1714.0V1707.3H207.8V1714.0ZM207.8 1714.0V1705.1H212.2V1714.0ZM212.2 1714.0V1703.3H218.9V1714.0ZM218.9 1714.0V1705.1H225.6V1714.0ZM225.6 1714.0V1708.4H232.2V1714.0ZM232.2 1714.0V1709.1H238.9V1714.0ZM238.9 1714.0V1706.2H243.3V1714.0ZM243.3 1714.0V1703.3H250.0V1714.0ZM250.0 1714.0V1705.1H256.7V1714.0ZM256.7 1714.0V1708.4H263.3V1714.0ZM263.3 1714.0V1709.6H270.0V1714.0ZM270.0 1714.0V1708.4H276.7V1714.0ZM276.7 1714.0V1707.3H283.3V1714.0ZM283.3 1714.0V1706.9H290.0V1714.0ZM290.0 1714.0V1706.2H296.7V1714.0ZM296.7 1714.0V1704.0H303.3V1714.0ZM303.3 1714.0V1706.9H306.7V1714.0ZM306.7 1714.0V1712.2H310.0V1714.0ZM310.0 1714.0V1711.8H316.7V1714.0ZM316.7 1714.0V1709.6H323.3V1714.0ZM323.3 1714.0V1709.1H330.0V1714.0ZM330.0 1714.0V1707.8H336.7V1714.0ZM336.7 1714.0V1708.4H343.3V1714.0ZM343.3 1714.0V1709.6H351.1V1714.0ZM351.1 1714.0V1712.9H356.7V1714.0ZM356.7 1714.0V1710.7H363.3V1714.0ZM363.3 1714.0V1707.3H370.0V1714.0ZM370.0 1714.0V1709.1H376.7V1714.0ZM376.7 1714.0V1709.6H383.3V1714.0ZM383.3 1714.0V1707.3H388.9V1714.0ZM388.9 1714.0V1704.0H394.4V1714.0ZM394.4 1714.0V1706.2H400.0V1714.0ZM400.0 1714.0V1710.0H403.3V1714.0ZM403.3 1714.0V1711.3H404.4V1714.0ZM404.4 1714.0V1709.6H408.9V1714.0ZM408.9 1714.0V1711.3H422.2V1714.0ZM422.2 1714.0V1712.2H425.6V1714.0ZM425.6 1714.0V1710.7H435.6V1714.0ZM435.6 1714.0V1706.9H441.1V1714.0ZM441.1 1714.0V1709.6H448.9V1714.0ZM448.9 1714.0V1711.3H452.2V1714.0ZM452.2 1714.0V1705.1H457.8V1714.0ZM457.8 1714.0V1704.0H466.7V1714.0ZM466.7 1714.0V1707.3H471.1V1714.0ZM471.1 1714.0V1710.7H475.6V1714.0ZM475.6 1714.0V1713.6H480.0V1714.0ZM480.0 1714.0V1711.3H493.3V1714.0ZM493.3 1714.0V1713.6H501.1V1714.0ZM501.1 1714.0V1711.3H515.6V1714.0ZM515.6 1714.0V1713.6H527.8V1714.0ZM527.8 1714.0V1711.3H535.6V1714.0ZM535.6 1714.0V1709.1H540.0V1714.0ZM540.0 1714.0V1710.7H550.0V1714.0ZM550.0 1714.0V1713.6H577.8V1714.0ZM577.8 1714.0V1712.9H586.7V1714.0ZM586.7 1714.0V1712.2H595.6V1714.0ZM595.6 1714.0V1708.4H601.1V1714.0ZM601.1 1714.0V1707.3H608.9V1714.0ZM608.9 1714.0V1708.4H613.3V1714.0ZM613.3 1714.0V1706.2H620.0V1714.0ZM620.0 1714.0V1705.1H624.4V1714.0ZM624.4 1714.0V1707.3H631.1V1714.0ZM631.1 1714.0V1711.8H638.9V1714.0ZM638.9 1714.0V1709.6H652.2V1714.0ZM652.2 1714.0V1712.2H656.7V1714.0ZM656.7 1714.0V1711.3H668.9V1714.0ZM668.9 1714.0V1709.6H672.2V1714.0ZM672.2 1714.0V1712.2H675.6V1714.0ZM675.6 1714.0V1710.7H681.1V1714.0ZM681.1 1714.0V1709.6H690.0V1714.0ZM690.0 1714.0V1710.0H694.4V1714.0ZM694.4 1714.0V1709.6H697.8V1714.0ZM697.8 1714.0V1711.3H701.1V1714.0ZM701.1 1714.0V1709.6H704.4V1714.0ZM704.4 1714.0V1711.3H713.3V1714.0ZM713.3 1714.0V1712.2H716.7V1714.0ZM716.7 1714.0V1709.6H718.9V1714.0ZM718.9 1714.0V1707.3H723.3V1714.0ZM723.3 1714.0V1706.9H730.0V1714.0ZM730.0 1714.0V1709.1H736.7V1714.0ZM736.7 1714.0V1713.6H738.9V1714.0ZM738.9 1714.0V1711.3H753.3V1714.0ZM753.3 1714.0V1713.6H770.0V1714.0ZM770.0 1714.0V1711.3H774.4V1714.0ZM774.4 1714.0V1709.6H778.9V1714.0ZM778.9 1714.0V1706.9H785.6V1714.0ZM785.6 1714.0V1708.4H791.1V1714.0ZM791.1 1714.0V1713.6H794.4V1714.0ZM794.4 1714.0V1710.0H801.1V1714.0ZM801.1 1714.0V1712.2H812.2V1714.0ZM812.2 1714.0V1713.6H817.8V1714.0ZM817.8 1714.0V1711.3H823.3V1714.0ZM823.3 1714.0V1710.0H832.2V1714.0ZM832.2 1714.0V1711.3H836.7V1714.0ZM836.7 1714.0V1713.6H856.7V1714.0ZM856.7 1714.0V1711.3H865.6V1714.0ZM865.6 1714.0V1712.2H867.8V1714.0ZM867.8 1714.0V1710.7H874.4V1714.0ZM874.4 1714.0V1708.4H878.9V1714.0ZM878.9 1714.0V1706.2H885.6V1714.0ZM885.6 1714.0V1704.0H890.0V1714.0ZM890.0 1714.0V1707.3H894.4V1714.0ZM894.4 1714.0V1706.9H900.0V1714.0ZM900.0 1714.0V1709.6H905.6V1714.0ZM905.6 1714.0V1708.4H911.1V1714.0ZM911.1 1714.0V1706.9H914.4V1714.0ZM914.4 1714.0V1706.2H918.9V1714.0ZM918.9 1714.0V1708.4H923.3V1714.0ZM923.3 1714.0V1710.7H927.8V1714.0ZM927.8 1714.0V1713.6H932.2V1714.0ZM932.2 1714.0V1711.8H938.9V1714.0ZM938.9 1714.0V1711.3H945.6V1714.0ZM945.6 1714.0V1710.7H952.2V1714.0ZM952.2 1714.0V1711.8H957.8V1714.0ZM957.8 1714.0V1713.6H977.8V1714.0ZM977.8 1714.0V1711.8H980.0V1714.0ZM980.0 1714.0V1709.6H994.4V1714.0ZM994.4 1714.0V1712.2H1000.0V1714.0ZM1000.0 1714.0V1711.3H1006.7V1714.0ZM1006.7 1714.0V1709.6H1011.1V1714.0ZM1011.1 1714.0V1710.7H1017.8V1714.0ZM1017.8 1714.0V1711.3H1024.4V1714.0ZM1024.4 1714.0V1707.8H1037.8V1714.0ZM1037.8 1714.0V1711.3H1041.1V1714.0ZM1041.1 1714.0V1708.4H1046.7V1714.0ZM1046.7 1714.0V1705.1H1051.1V1714.0ZM1051.1 1714.0V1701.8H1056.7V1714.0ZM1056.7 1714.0V1705.1H1062.2V1714.0ZM1062.2 1714.0V1710.7H1068.9V1714.0ZM1068.9 1714.0V1711.3H1075.6V1714.0ZM1075.6 1714.0V1710.0H1082.2V1714.0ZM1082.2 1714.0V1710.7H1090.0V1714.0ZM1090.0 1714.0V1713.6H1100.0V1714.0ZM1100.0 1714.0V1711.3H1117.8V1714.0ZM1117.8 1714.0V1709.6H1124.4V1714.0ZM1124.4 1714.0V1711.3H1131.1V1714.0ZM1131.1 1714.0V1709.6H1142.2V1714.0ZM1142.2 1714.0V1710.0H1157.8V1714.0ZM1157.8 1714.0V1710.7H1164.4V1714.0ZM1164.4 1714.0V1711.8H1168.9V1714.0ZM1168.9 1714.0V1713.6H1183.3V1714.0ZM1183.3 1714.0V1711.3H1197.8V1714.0ZM1197.8 1714.0V1713.6H1208.9V1714.0ZM1208.9 1714.0V1712.2H1215.6V1714.0ZM1215.6 1714.0V1711.3H1224.4V1714.0ZM1224.4 1714.0V1712.9H1242.2V1714.0ZM1242.2 1714.0V1711.3H1256.7V1714.0Z" fill="#9e1a1f"/>
<path d="M116.7 1790.5V1776.1H121.1V1790.5ZM121.1 1790.5V1774.9H126.7V1790.5ZM126.7 1790.5V1774.9H128.9V1790.5ZM128.9 1790.5V1768.3H131.1V1790.5ZM131.1 1790.5V1780.5H134.4V1790.5ZM134.4 1790.5V1781.6H137.8V1790.5ZM137.8 1790.5V1775.6H142.2V1790.5ZM142.2 1790.5V1777.2H145.6V1790.5ZM145.6 1790.5V1781.6H150.0V1790.5ZM150.0 1790.5V1783.8H153.3V1790.5ZM153.3 1790.5V1788.3H155.6V1790.5ZM155.6 1790.5V1789.4H157.8V1790.5ZM157.8 1790.5V1769.4H162.2V1790.5ZM162.2 1790.5V1767.2H165.6V1790.5ZM165.6 1790.5V1750.5H168.9V1790.5ZM168.9 1790.5V1756.1H172.2V1790.5ZM172.2 1790.5V1738.3H175.6V1790.5ZM175.6 1790.5V1747.2H177.8V1790.5ZM177.8 1790.5V1756.1H181.1V1790.5ZM181.1 1790.5V1766.1H184.4V1790.5ZM184.4 1790.5V1776.1H188.9V1790.5ZM188.9 1790.5V1769.4H192.2V1790.5ZM192.2 1790.5V1777.2H195.6V1790.5ZM195.6 1790.5V1781.6H198.9V1790.5ZM198.9 1790.5V1779.4H203.3V1790.5ZM203.3 1790.5V1777.2H206.7V1790.5ZM206.7 1790.5V1772.7H210.0V1790.5ZM210.0 1790.5V1779.4H214.4V1790.5ZM214.4 1790.5V1778.3H218.9V1790.5ZM218.9 1790.5V1772.7H225.6V1790.5ZM225.6 1790.5V1772.7H228.9V1790.5ZM228.9 1790.5V1789.4H233.3V1790.5ZM233.3 1790.5V1789.4H237.8V1790.5ZM237.8 1790.5V1764.9H241.1V1790.5ZM241.1 1790.5V1754.9H245.6V1790.5ZM245.6 1790.5V1748.3H248.9V1790.5ZM248.9 1790.5V1746.1H252.2V1790.5ZM252.2 1790.5V1749.4H255.6V1790.5ZM255.6 1790.5V1743.8H258.9V1790.5ZM258.9 1790.5V1738.3H262.2V1790.5ZM262.2 1790.5V1726.1H265.6V1790.5ZM265.6 1790.5V1738.3H268.9V1790.5ZM268.9 1790.5V1752.7H273.3V1790.5ZM273.3 1790.5V1769.4H276.7V1790.5ZM276.7 1790.5V1779.4H280.0V1790.5ZM280.0 1790.5V1772.7H284.4V1790.5ZM284.4 1790.5V1779.4H288.9V1790.5ZM288.9 1790.5V1783.8H292.2V1790.5ZM292.2 1790.5V1789.4H296.7V1790.5ZM296.7 1790.5V1776.1H301.1V1790.5ZM301.1 1790.5V1772.7H304.4V1790.5ZM304.4 1790.5V1766.1H307.8V1790.5ZM307.8 1790.5V1773.8H311.1V1790.5ZM311.1 1790.5V1781.6H314.4V1790.5ZM314.4 1790.5V1787.2H321.1V1790.5ZM321.1 1790.5V1782.7H326.7V1790.5ZM326.7 1790.5V1781.6H332.2V1790.5ZM332.2 1790.5V1783.8H337.8V1790.5ZM337.8 1790.5V1783.8H343.3V1790.5ZM343.3 1790.5V1783.8H348.9V1790.5ZM348.9 1790.5V1787.2H353.3V1790.5ZM353.3 1790.5V1778.3H360.0V1790.5ZM360.0 1790.5V1772.7H364.4V1790.5ZM364.4 1790.5V1779.4H368.9V1790.5ZM368.9 1790.5V1787.2H373.3V1790.5ZM373.3 1790.5V1776.1H377.8V1790.5ZM377.8 1790.5V1772.7H383.3V1790.5ZM383.3 1790.5V1770.5H387.8V1790.5ZM387.8 1790.5V1767.2H391.1V1790.5ZM391.1 1790.5V1763.8H394.4V1790.5ZM394.4 1790.5V1767.2H400.0V1790.5ZM400.0 1790.5V1768.3H410.0V1790.5ZM410.0 1790.5V1774.9H416.7V1790.5ZM416.7 1790.5V1783.8H423.3V1790.5ZM423.3 1790.5V1784.5H434.4V1790.5ZM434.4 1790.5V1771.6H447.8V1790.5ZM447.8 1790.5V1784.5H451.1V1790.5ZM451.1 1790.5V1789.8H455.6V1790.5ZM455.6 1790.5V1784.5H460.0V1790.5ZM460.0 1790.5V1778.3H466.7V1790.5ZM466.7 1790.5V1784.5H477.8V1790.5ZM477.8 1790.5V1789.4H480.0V1790.5ZM480.0 1790.5V1784.5H494.4V1790.5ZM494.4 1790.5V1789.8H513.3V1790.5ZM513.3 1790.5V1784.5H523.3V1790.5ZM523.3 1790.5V1776.1H527.8V1790.5ZM527.8 1790.5V1771.6H533.3V1790.5ZM533.3 1790.5V1767.2H538.9V1790.5ZM538.9 1790.5V1761.6H542.2V1790.5ZM542.2 1790.5V1759.4H545.6V1790.5ZM545.6 1790.5V1763.8H550.0V1790.5ZM550.0 1790.5V1771.6H553.3V1790.5ZM553.3 1790.5V1778.3H555.6V1790.5ZM555.6 1790.5V1784.5H561.1V1790.5ZM561.1 1790.5V1789.8H577.8V1790.5ZM577.8 1790.5V1784.5H583.3V1790.5ZM583.3 1790.5V1771.6H587.8V1790.5ZM587.8 1790.5V1778.3H596.7V1790.5ZM596.7 1790.5V1771.6H600.0V1790.5ZM600.0 1790.5V1766.1H603.3V1790.5ZM603.3 1790.5V1759.4H607.8V1790.5ZM607.8 1790.5V1753.8H611.1V1790.5ZM611.1 1790.5V1758.3H614.4V1790.5ZM614.4 1790.5V1763.8H616.7V1790.5ZM616.7 1790.5V1770.5H620.0V1790.5ZM620.0 1790.5V1766.1H631.1V1790.5ZM631.1 1790.5V1773.8H634.4V1790.5ZM634.4 1790.5V1789.8H638.9V1790.5ZM638.9 1790.5V1774.9H647.8V1790.5ZM647.8 1790.5V1782.7H652.2V1790.5ZM652.2 1790.5V1789.8H660.0V1790.5ZM660.0 1790.5V1784.5H663.3V1790.5ZM663.3 1790.5V1778.3H673.3V1790.5ZM673.3 1790.5V1784.5H677.8V1790.5ZM677.8 1790.5V1789.8H681.1V1790.5ZM681.1 1790.5V1778.3H690.0V1790.5ZM690.0 1790.5V1772.7H693.3V1790.5ZM693.3 1790.5V1780.1H696.7V1790.5ZM696.7 1790.5V1784.5H710.0V1790.5ZM710.0 1790.5V1781.6H713.3V1790.5ZM713.3 1790.5V1776.1H716.7V1790.5ZM716.7 1790.5V1772.7H721.1V1790.5ZM721.1 1790.5V1768.3H723.3V1790.5ZM723.3 1790.5V1766.1H725.6V1790.5ZM725.6 1790.5V1772.7H728.9V1790.5ZM728.9 1790.5V1783.8H734.4V1790.5ZM734.4 1790.5V1787.2H741.1V1790.5ZM741.1 1790.5V1778.3H748.9V1790.5ZM748.9 1790.5V1780.5H754.4V1790.5ZM754.4 1790.5V1778.3H756.7V1790.5ZM756.7 1790.5V1784.5H765.6V1790.5ZM765.6 1790.5V1784.5H772.2V1790.5ZM772.2 1790.5V1779.4H785.6V1790.5ZM785.6 1790.5V1789.8H798.9V1790.5ZM798.9 1790.5V1784.5H814.4V1790.5ZM814.4 1790.5V1789.8H816.7V1790.5ZM816.7 1790.5V1787.2H822.2V1790.5ZM822.2 1790.5V1781.6H826.7V1790.5ZM826.7 1790.5V1772.7H830.0V1790.5ZM830.0 1790.5V1770.5H834.4V1790.5ZM834.4 1790.5V1766.1H837.8V1790.5ZM837.8 1790.5V1772.7H843.3V1790.5ZM843.3 1790.5V1789.8H872.2V1790.5ZM872.2 1790.5V1784.5H887.8V1790.5ZM887.8 1790.5V1789.8H894.4V1790.5ZM894.4 1790.5V1778.3H910.0V1790.5ZM910.0 1790.5V1789.8H921.1V1790.5ZM921.1 1790.5V1784.5H925.6V1790.5ZM925.6 1790.5V1789.8H928.9V1790.5ZM928.9 1790.5V1778.3H943.3V1790.5ZM943.3 1790.5V1782.7H954.4V1790.5ZM954.4 1790.5V1789.8H956.7V1790.5ZM956.7 1790.5V1784.5H967.8V1790.5ZM967.8 1790.5V1779.4H974.4V1790.5ZM974.4 1790.5V1782.7H980.0V1790.5ZM980.0 1790.5V1781.6H984.4V1790.5ZM984.4 1790.5V1789.8H990.0V1790.5ZM990.0 1790.5V1781.6H995.6V1790.5ZM995.6 1790.5V1778.3H1001.1V1790.5ZM1001.1 1790.5V1763.8H1004.4V1790.5ZM1004.4 1790.5V1766.1H1007.8V1790.5ZM1007.8 1790.5V1759.4H1011.1V1790.5ZM1011.1 1790.5V1766.1H1015.6V1790.5ZM1015.6 1790.5V1781.6H1021.1V1790.5ZM1021.1 1790.5V1786.1H1023.3V1790.5ZM1023.3 1790.5V1789.8H1024.4V1790.5ZM1024.4 1790.5V1778.3H1028.9V1790.5ZM1028.9 1790.5V1772.7H1034.4V1790.5ZM1034.4 1790.5V1771.6H1037.8V1790.5ZM1037.8 1790.5V1768.3H1041.1V1790.5ZM1041.1 1790.5V1776.1H1045.6V1790.5ZM1045.6 1790.5V1768.3H1050.0V1790.5ZM1050.0 1790.5V1772.7H1053.3V1790.5ZM1053.3 1790.5V1766.1H1058.9V1790.5ZM1058.9 1790.5V1771.6H1063.3V1790.5ZM1063.3 1790.5V1781.6H1075.6V1790.5ZM1075.6 1790.5V1789.8H1091.1V1790.5ZM1091.1 1790.5V1784.5H1094.4V1790.5ZM1094.4 1790.5V1766.1H1098.9V1790.5ZM1098.9 1790.5V1769.4H1102.2V1790.5ZM1102.2 1790.5V1772.7H1105.6V1790.5ZM1105.6 1790.5V1779.4H1113.3V1790.5ZM1113.3 1790.5V1776.1H1115.6V1790.5ZM1115.6 1790.5V1784.5H1124.4V1790.5ZM1124.4 1790.5V1789.8H1128.9V1790.5ZM1128.9 1790.5V1784.5H1136.7V1790.5ZM1136.7 1790.5V1779.4H1140.0V1790.5ZM1140.0 1790.5V1784.5H1144.4V1790.5ZM1144.4 1790.5V1789.8H1150.0V1790.5ZM1150.0 1790.5V1779.4H1165.6V1790.5ZM1165.6 1790.5V1784.5H1173.3V1790.5ZM1173.3 1790.5V1779.4H1180.0V1790.5ZM1180.0 1790.5V1784.5H1193.3V1790.5ZM1193.3 1790.5V1789.8H1200.0V1790.5ZM1200.0 1790.5V1778.3H1206.7V1790.5ZM1206.7 1790.5V1762.7H1213.3V1790.5ZM1213.3 1790.5V1764.9H1216.7V1790.5ZM1216.7 1790.5V1758.3H1220.0V1790.5ZM1220.0 1790.5V1767.2H1224.4V1790.5ZM1224.4 1790.5V1769.4H1233.3V1790.5ZM1233.3 1790.5V1772.7H1237.8V1790.5ZM1237.8 1790.5V1784.5H1248.9V1790.5ZM1248.9 1790.5V1778.3H1253.3V1790.5ZM1253.3 1790.5V1784.5H1262.2V1790.5Z" fill="#2c3995"/>
<path d="M113.3 1866.6V1861.5H116.7V1866.6ZM116.7 1866.6V1859.3H121.1V1866.6ZM121.1 1866.6V1862.6H125.6V1866.6ZM125.6 1866.6V1865.9H132.2V1866.6ZM132.2 1866.6V1863.7H136.7V1866.6ZM136.7 1866.6V1859.3H141.1V1866.6ZM141.1 1866.6V1860.4H145.6V1866.6ZM145.6 1866.6V1858.2H150.0V1866.6ZM150.0 1866.6V1861.5H152.2V1866.6ZM152.2 1866.6V1858.2H154.4V1866.6ZM154.4 1866.6V1852.6H161.1V1866.6ZM161.1 1866.6V1851.0H166.7V1866.6ZM166.7 1866.6V1849.3H168.9V1866.6ZM168.9 1866.6V1852.6H172.2V1866.6ZM172.2 1866.6V1853.7H176.7V1866.6ZM176.7 1866.6V1858.2H181.1V1866.6ZM181.1 1866.6V1853.7H186.7V1866.6ZM186.7 1866.6V1854.2H192.2V1866.6ZM192.2 1866.6V1854.8H195.6V1866.6ZM195.6 1866.6V1860.4H200.0V1866.6ZM200.0 1866.6V1862.2H203.3V1866.6ZM203.3 1866.6V1858.2H208.9V1866.6ZM208.9 1866.6V1860.4H213.3V1866.6ZM213.3 1866.6V1864.4H218.9V1866.6ZM218.9 1866.6V1858.2H225.6V1866.6ZM225.6 1866.6V1861.5H230.0V1866.6ZM230.0 1866.6V1863.7H234.4V1866.6ZM234.4 1866.6V1865.9H238.9V1866.6ZM238.9 1866.6V1862.6H243.3V1866.6ZM243.3 1866.6V1857.0H248.9V1866.6ZM248.9 1866.6V1854.8H254.4V1866.6ZM254.4 1866.6V1852.6H258.9V1866.6ZM258.9 1866.6V1858.2H263.3V1866.6ZM263.3 1866.6V1860.4H267.8V1866.6ZM267.8 1866.6V1858.2H274.4V1866.6ZM274.4 1866.6V1857.7H281.1V1866.6ZM281.1 1866.6V1862.6H285.6V1866.6ZM285.6 1866.6V1864.8H290.0V1866.6ZM290.0 1866.6V1861.5H294.4V1866.6ZM294.4 1866.6V1858.2H300.0V1866.6ZM300.0 1866.6V1857.7H305.6V1866.6ZM305.6 1866.6V1862.6H314.4V1866.6ZM314.4 1866.6V1861.5H320.0V1866.6ZM320.0 1866.6V1859.9H325.6V1866.6ZM325.6 1866.6V1858.6H332.2V1866.6ZM332.2 1866.6V1859.3H338.9V1866.6ZM338.9 1866.6V1861.5H342.2V1866.6ZM342.2 1866.6V1865.9H347.8V1866.6ZM347.8 1866.6V1864.4H354.4V1866.6ZM354.4 1866.6V1863.0H358.9V1866.6ZM358.9 1866.6V1858.6H365.6V1866.6ZM365.6 1866.6V1859.3H370.0V1866.6ZM370.0 1866.6V1856.4H374.4V1866.6ZM374.4 1866.6V1858.2H381.1V1866.6ZM381.1 1866.6V1857.7H386.7V1866.6ZM386.7 1866.6V1860.4H393.3V1866.6ZM393.3 1866.6V1862.2H400.0V1866.6ZM400.0 1866.6V1864.4H407.8V1866.6ZM407.8 1866.6V1863.7H411.1V1866.6ZM411.1 1866.6V1861.5H416.7V1866.6ZM416.7 1866.6V1863.7H422.2V1866.6ZM422.2 1866.6V1863.0H426.7V1866.6ZM426.7 1866.6V1860.4H431.1V1866.6ZM431.1 1866.6V1859.3H434.4V1866.6ZM434.4 1866.6V1858.2H436.7V1866.6ZM436.7 1866.6V1857.0H440.0V1866.6ZM440.0 1866.6V1859.3H443.3V1866.6ZM443.3 1866.6V1863.7H445.6V1866.6ZM456.7 1866.6V1865.9H475.6V1866.6ZM475.6 1866.6V1863.7H480.0V1866.6ZM480.0 1866.6V1861.5H485.6V1866.6ZM485.6 1866.6V1863.7H491.1V1866.6ZM491.1 1866.6V1865.3H497.8V1866.6ZM497.8 1866.6V1864.4H502.2V1866.6ZM502.2 1866.6V1865.9H505.6V1866.6ZM505.6 1866.6V1863.7H512.2V1866.6ZM512.2 1866.6V1865.9H524.4V1866.6ZM524.4 1866.6V1865.3H532.2V1866.6ZM532.2 1866.6V1863.7H538.9V1866.6ZM538.9 1866.6V1865.9H546.7V1866.6ZM566.7 1866.6V1862.6H578.9V1866.6ZM578.9 1866.6V1865.3H583.3V1866.6ZM583.3 1866.6V1863.0H588.9V1866.6ZM588.9 1866.6V1864.4H595.6V1866.6ZM595.6 1866.6V1863.7H602.2V1866.6ZM602.2 1866.6V1861.5H607.8V1866.6ZM607.8 1866.6V1859.3H612.2V1866.6ZM612.2 1866.6V1860.4H616.7V1866.6ZM616.7 1866.6V1862.6H622.2V1866.6ZM622.2 1866.6V1865.9H641.1V1866.6ZM641.1 1866.6V1863.0H648.9V1866.6ZM648.9 1866.6V1861.5H654.4V1866.6ZM654.4 1866.6V1863.0H663.3V1866.6ZM663.3 1866.6V1861.5H668.9V1866.6ZM668.9 1866.6V1863.0H676.7V1866.6ZM676.7 1866.6V1865.9H682.2V1866.6ZM682.2 1866.6V1864.4H690.0V1866.6ZM690.0 1866.6V1863.0H696.7V1866.6ZM696.7 1866.6V1864.4H703.3V1866.6ZM703.3 1866.6V1863.7H707.8V1866.6ZM707.8 1866.6V1865.3H723.3V1866.6ZM723.3 1866.6V1862.6H726.7V1866.6ZM726.7 1866.6V1858.6H730.0V1866.6ZM730.0 1866.6V1856.4H735.6V1866.6ZM735.6 1866.6V1858.6H738.9V1866.6ZM738.9 1866.6V1862.6H743.3V1866.6ZM756.7 1866.6V1865.9H776.7V1866.6ZM776.7 1866.6V1864.4H790.0V1866.6ZM808.9 1866.6V1865.9H818.9V1866.6ZM818.9 1866.6V1864.4H823.3V1866.6ZM823.3 1866.6V1863.0H827.8V1866.6ZM827.8 1866.6V1861.5H832.2V1866.6ZM832.2 1866.6V1863.7H836.7V1866.6ZM850.0 1866.6V1865.9H863.3V1866.6ZM876.7 1866.6V1864.4H880.0V1866.6ZM880.0 1866.6V1861.5H885.6V1866.6ZM885.6 1866.6V1859.3H891.1V1866.6ZM891.1 1866.6V1860.4H896.7V1866.6ZM896.7 1866.6V1859.9H901.1V1866.6ZM901.1 1866.6V1861.5H904.4V1866.6ZM904.4 1866.6V1863.7H907.8V1866.6ZM941.1 1866.6V1865.3H954.4V1866.6ZM981.1 1866.6V1863.7H984.4V1866.6ZM984.4 1866.6V1859.9H988.9V1866.6ZM988.9 1866.6V1858.2H994.4V1866.6ZM994.4 1866.6V1860.4H1000.0V1866.6ZM1000.0 1866.6V1863.7H1004.4V1866.6ZM1004.4 1866.6V1862.2H1008.9V1866.6ZM1008.9 1866.6V1861.5H1013.3V1866.6ZM1013.3 1866.6V1862.6H1016.7V1866.6ZM1016.7 1866.6V1861.5H1020.0V1866.6ZM1020.0 1866.6V1864.4H1023.3V1866.6ZM1023.3 1866.6V1862.6H1027.8V1866.6ZM1027.8 1866.6V1864.4H1033.3V1866.6ZM1044.4 1866.6V1861.5H1053.3V1866.6ZM1053.3 1866.6V1864.4H1058.9V1866.6ZM1088.9 1866.6V1863.7H1093.3V1866.6ZM1093.3 1866.6V1860.4H1096.7V1866.6ZM1096.7 1866.6V1856.4H1101.1V1866.6ZM1101.1 1866.6V1859.3H1106.7V1866.6ZM1106.7 1866.6V1861.5H1111.1V1866.6ZM1111.1 1866.6V1864.4H1115.6V1866.6ZM1115.6 1866.6V1863.7H1120.0V1866.6ZM1120.0 1866.6V1865.3H1123.3V1866.6ZM1123.3 1866.6V1863.7H1128.9V1866.6ZM1128.9 1866.6V1865.3H1135.6V1866.6ZM1150.0 1866.6V1863.7H1155.6V1866.6ZM1155.6 1866.6V1861.5H1161.1V1866.6ZM1161.1 1866.6V1864.4H1165.6V1866.6ZM1176.7 1866.6V1859.9H1181.1V1866.6ZM1181.1 1866.6V1861.5H1184.4V1866.6ZM1184.4 1866.6V1859.3H1191.1V1866.6ZM1191.1 1866.6V1864.4H1194.4V1866.6ZM1194.4 1866.6V1865.9H1202.2V1866.6ZM1202.2 1866.6V1865.3H1206.7V1866.6ZM1206.7 1866.6V1863.7H1212.2V1866.6ZM1212.2 1866.6V1856.4H1215.6V1866.6ZM1215.6 1866.6V1858.6H1221.1V1866.6ZM1221.1 1866.6V1860.8H1227.8V1866.6ZM1227.8 1866.6V1862.2H1237.8V1866.6Z" fill="#1f918c"/>
<path d="M154.4 1941.2V1940.2H161.1V1941.2ZM161.1 1941.2V1938.5H181.1V1941.2ZM201.1 1941.2V1939.7H205.6V1941.2ZM205.6 1941.2V1938.5H218.9V1941.2ZM265.6 1941.2V1939.7H274.4V1941.2ZM460.0 1941.2V1940.2H462.2V1941.2ZM602.2 1941.2V1939.0H608.9V1941.2ZM736.7 1941.2V1939.7H742.2V1941.2ZM1000.0 1941.2V1940.3H1077.8V1941.2ZM1024.4 1941.2V1939.7H1031.1V1941.2ZM1157.8 1941.2V1940.4H1213.3V1941.2Z" fill="#5c5c5c"/>
<path d="M123.3 2019.0V2016.8H154.4V2019.0ZM161.1 2019.0V2014.6H183.3V2019.0ZM190.0 2019.0V2014.6H207.8V2019.0ZM207.8 2019.0V2017.5H220.0V2019.0ZM220.0 2019.0V2013.9H252.2V2019.0ZM252.2 2019.0V2016.3H278.9V2019.0ZM296.7 2019.0V2017.5H305.6V2019.0ZM325.6 2019.0V2015.7H342.2V2019.0ZM378.9 2019.0V2016.8H400.0V2019.0ZM400.0 2019.0V2016.8H413.3V2019.0ZM522.2 2019.0V2017.5H525.6V2019.0ZM573.3 2019.0V2015.7H580.0V2019.0ZM580.0 2019.0V2013.0H586.7V2019.0ZM586.7 2019.0V2017.0H593.3V2019.0ZM595.6 2019.0V2015.7H603.3V2019.0ZM611.1 2019.0V2015.7H620.0V2019.0ZM835.6 2019.0V2017.5H843.3V2019.0ZM863.3 2019.0V2017.5H867.8V2019.0ZM918.9 2019.0V2017.5H926.7V2019.0ZM1004.4 2019.0V2017.0H1015.6V2019.0ZM1036.7 2019.0V2017.5H1042.2V2019.0ZM1102.2 2019.0V2017.5H1111.1V2019.0ZM1208.9 2019.0V2016.3H1215.6V2019.0ZM1215.6 2019.0V2017.5H1233.3V2019.0ZM1243.3 2019.0V2017.5H1250.0V2019.0Z" fill="#9e1a1f"/>
<path d="M145.6 2093.3V2086.6H148.9V2093.3ZM148.9 2093.3V2082.2H152.2V2093.3ZM152.2 2093.3V2074.4H157.8V2093.3ZM157.8 2093.3V2070.0H161.1V2093.3ZM161.1 2093.3V2074.4H163.3V2093.3ZM163.3 2093.3V2070.0H166.7V2093.3ZM166.7 2093.3V2074.4H171.1V2093.3ZM171.1 2093.3V2071.1H176.7V2093.3ZM176.7 2093.3V2065.5H180.0V2093.3ZM180.0 2093.3V2074.4H185.6V2093.3ZM185.6 2093.3V2065.5H190.0V2093.3ZM190.0 2093.3V2055.5H193.3V2093.3ZM193.3 2093.3V2070.0H197.8V2093.3ZM197.8 2093.3V2074.4H201.1V2093.3ZM201.1 2093.3V2078.9H203.3V2093.3ZM203.3 2093.3V2086.6H206.7V2093.3ZM206.7 2093.3V2082.2H210.0V2093.3ZM210.0 2093.3V2074.4H214.4V2093.3ZM214.4 2093.3V2065.5H218.9V2093.3ZM218.9 2093.3V2047.7H222.2V2093.3ZM222.2 2093.3V2055.5H225.6V2093.3ZM225.6 2093.3V2066.6H230.0V2093.3ZM230.0 2093.3V2055.5H231.1V2093.3ZM231.1 2093.3V2038.9H235.6V2093.3ZM235.6 2093.3V2051.1H237.8V2093.3ZM237.8 2093.3V2034.4H240.0V2093.3ZM240.0 2093.3V2055.5H242.2V2093.3ZM242.2 2093.3V2038.9H245.6V2093.3ZM245.6 2093.3V2047.7H248.9V2093.3ZM248.9 2093.3V2070.0H252.2V2093.3ZM252.2 2093.3V2047.7H255.6V2093.3ZM255.6 2093.3V2034.4H258.9V2093.3ZM258.9 2093.3V2030.0H263.3V2093.3ZM263.3 2093.3V2040.0H267.8V2093.3ZM267.8 2093.3V2053.3H271.1V2093.3ZM271.1 2093.3V2066.6H275.6V2093.3ZM275.6 2093.3V2082.2H278.9V2093.3ZM278.9 2093.3V2086.6H282.2V2093.3ZM282.2 2093.3V2082.2H285.6V2093.3ZM285.6 2093.3V2077.7H287.8V2093.3ZM287.8 2093.3V2086.6H290.0V2093.3ZM290.0 2093.3V2074.4H295.6V2093.3ZM295.6 2093.3V2077.7H298.9V2093.3ZM298.9 2093.3V2082.2H305.6V2093.3ZM305.6 2093.3V2086.6H307.8V2093.3ZM307.8 2093.3V2082.2H313.3V2093.3ZM318.9 2093.3V2091.1H324.4V2093.3ZM324.4 2093.3V2086.6H327.8V2093.3ZM327.8 2093.3V2091.1H337.8V2093.3ZM337.8 2093.3V2086.6H342.2V2093.3ZM342.2 2093.3V2091.1H354.4V2093.3ZM354.4 2093.3V2091.5H362.2V2093.3ZM371.1 2093.3V2091.1H380.0V2093.3ZM386.7 2093.3V2086.6H396.7V2093.3ZM396.7 2093.3V2091.1H400.0V2093.3ZM400.0 2093.3V2091.1H407.8V2093.3ZM407.8 2093.3V2086.6H422.2V2093.3ZM463.3 2093.3V2091.1H473.3V2093.3ZM473.3 2093.3V2091.1H478.9V2093.3ZM478.9 2093.3V2086.6H481.1V2093.3ZM481.1 2093.3V2091.1H493.3V2093.3ZM497.8 2093.3V2091.1H515.6V2093.3ZM576.7 2093.3V2091.1H583.3V2093.3ZM583.3 2093.3V2086.6H591.1V2093.3ZM594.4 2093.3V2091.1H601.1V2093.3ZM613.3 2093.3V2091.1H618.9V2093.3ZM618.9 2093.3V2086.6H627.8V2093.3ZM627.8 2093.3V2091.1H630.0V2093.3ZM630.0 2093.3V2086.6H634.4V2093.3ZM636.7 2093.3V2091.1H644.4V2093.3ZM658.9 2093.3V2091.1H666.7V2093.3ZM666.7 2093.3V2085.5H670.0V2093.3ZM670.0 2093.3V2077.7H674.4V2093.3ZM674.4 2093.3V2086.6H684.4V2093.3ZM701.1 2093.3V2091.1H706.7V2093.3ZM706.7 2093.3V2086.6H710.0V2093.3ZM710.0 2093.3V2091.1H714.4V2093.3ZM716.7 2093.3V2091.1H724.4V2093.3ZM794.0 2093.3V2091.1H810.0V2093.3ZM816.7 2093.3V2086.6H824.4V2093.3ZM824.4 2093.3V2091.1H835.6V2093.3ZM840.0 2093.3V2091.1H847.8V2093.3ZM861.1 2093.3V2091.1H875.6V2093.3ZM875.6 2093.3V2086.6H891.1V2093.3ZM891.1 2093.3V2091.1H893.3V2093.3ZM922.2 2093.3V2091.1H930.0V2093.3ZM932.2 2093.3V2091.1H941.1V2093.3ZM941.1 2093.3V2088.9H943.3V2093.3ZM943.3 2093.3V2082.2H947.8V2093.3ZM947.8 2093.3V2086.6H954.4V2093.3ZM954.4 2093.3V2082.2H960.0V2093.3ZM960.0 2093.3V2091.1H962.2V2093.3ZM987.8 2093.3V2090.6H995.6V2093.3ZM998.9 2093.3V2090.6H1006.7V2093.3ZM1027.8 2093.3V2090.6H1041.1V2093.3ZM1044.4 2093.3V2090.6H1060.0V2093.3ZM1097.8 2093.3V2090.6H1116.7V2093.3ZM1116.7 2093.3V2086.2H1121.1V2093.3ZM1121.1 2093.3V2090.6H1131.1V2093.3ZM1131.1 2093.3V2086.2H1135.6V2093.3ZM1135.6 2093.3V2090.6H1140.0V2093.3ZM1204.4 2093.3V2090.6H1212.2V2093.3ZM1214.4 2093.3V2086.2H1218.9V2093.3ZM1218.9 2093.3V2080.6H1223.3V2093.3ZM1223.3 2093.3V2086.2H1228.9V2093.3ZM1228.9 2093.3V2081.7H1233.3V2093.3ZM1233.3 2093.3V2074.0H1237.8V2093.3ZM1237.8 2093.3V2075.1H1241.1V2093.3ZM1241.1 2093.3V2069.5H1243.3V2093.3ZM1243.3 2093.3V2065.1H1245.6V2093.3ZM1245.6 2093.3V2074.0H1247.8V2093.3ZM1247.8 2093.3V2090.6H1251.1V2093.3Z" fill="#2c3995"/>
<path d="M136.7 2170.2V2169.1H152.2V2170.2ZM152.2 2170.2V2168.0H156.7V2170.2ZM156.7 2170.2V2165.8H163.3V2170.2ZM163.3 2170.2V2166.9H167.8V2170.2ZM167.8 2170.2V2161.3H175.6V2170.2ZM175.6 2170.2V2162.4H180.0V2170.2ZM180.0 2170.2V2161.3H183.3V2170.2ZM183.3 2170.2V2162.4H186.7V2170.2ZM186.7 2170.2V2164.6H194.4V2170.2ZM194.4 2170.2V2165.8H201.1V2170.2ZM201.1 2170.2V2166.9H204.4V2170.2ZM204.4 2170.2V2165.8H210.0V2170.2ZM210.0 2170.2V2169.1H216.7V2170.2ZM216.7 2170.2V2166.9H221.1V2170.2ZM221.1 2170.2V2163.5H225.6V2170.2ZM225.6 2170.2V2161.3H231.1V2170.2ZM231.1 2170.2V2164.6H237.8V2170.2ZM237.8 2170.2V2166.4H243.3V2170.2ZM243.3 2170.2V2164.6H248.9V2170.2ZM248.9 2170.2V2166.9H254.4V2170.2ZM254.4 2170.2V2166.4H257.8V2170.2ZM257.8 2170.2V2164.6H263.3V2170.2ZM263.3 2170.2V2167.3H270.0V2170.2ZM270.0 2170.2V2168.0H274.4V2170.2ZM274.4 2170.2V2169.5H282.2V2170.2ZM282.2 2170.2V2166.9H286.7V2170.2ZM286.7 2170.2V2165.8H291.1V2170.2ZM291.1 2170.2V2168.0H296.7V2170.2ZM318.9 2170.2V2169.1H325.6V2170.2ZM356.7 2170.2V2169.1H363.3V2170.2ZM1064.4 2170.2V2168.7H1072.2V2170.2ZM1196.7 2170.2V2168.4H1210.0V2170.2Z" fill="#1f918c"/>
<path d="M114.4 2246.2V2244.0H121.1V2246.2ZM121.1 2246.2V2245.4H400.0V2246.2ZM381.1 2246.2V2244.4H400.0V2246.2ZM400.0 2246.2V2245.6H690.0V2246.2ZM428.9 2246.2V2244.0H436.7V2246.2ZM441.1 2246.2V2244.7H448.9V2246.2ZM511.1 2246.2V2244.7H522.2V2246.2ZM553.3 2246.2V2244.7H560.0V2246.2ZM620.0 2246.2V2244.4H626.7V2246.2ZM668.9 2246.2V2244.7H676.7V2246.2ZM690.0 2246.2V2244.0H697.8V2246.2ZM713.3 2246.2V2244.7H736.7V2246.2ZM783.3 2246.2V2242.9H791.1V2246.2ZM872.2 2246.2V2242.9H880.0V2246.2ZM881.1 2246.2V2244.7H892.2V2246.2ZM925.6 2246.2V2244.0H934.4V2246.2ZM972.2 2246.2V2244.7H980.0V2246.2ZM987.8 2246.2V2244.7H995.6V2246.2ZM1035.6 2246.2V2242.2H1040.0V2246.2ZM1040.0 2246.2V2244.0H1044.4V2246.2ZM1057.8 2246.2V2244.7H1068.9V2246.2ZM1097.8 2246.2V2244.7H1113.3V2246.2ZM1175.6 2246.2V2241.3H1182.2V2246.2ZM1193.3 2246.2V2244.7H1202.2V2246.2ZM1220.0 2246.2V2244.7H1246.7V2246.2Z" fill="#5c5c5c"/>
<path d="M123.3 2322.8V2321.2H145.6V2322.8ZM153.3 2322.8V2321.2H163.3V2322.8ZM167.8 2322.8V2321.2H183.3V2322.8ZM183.3 2322.8V2322.1H196.7V2322.8ZM196.7 2322.8V2321.2H205.6V2322.8ZM205.6 2322.8V2318.4H212.2V2322.8ZM212.2 2322.8V2320.6H218.9V2322.8ZM218.9 2322.8V2319.5H225.6V2322.8ZM225.6 2322.8V2321.2H231.1V2322.8ZM231.1 2322.8V2317.7H240.0V2322.8ZM240.0 2322.8V2321.2H256.7V2322.8ZM272.2 2322.8V2321.2H285.6V2322.8ZM285.6 2322.8V2317.7H293.3V2322.8ZM293.3 2322.8V2321.2H296.7V2322.8ZM307.8 2322.8V2321.7H327.8V2322.8ZM356.7 2322.8V2321.7H372.2V2322.8ZM394.4 2322.8V2321.7H400.0V2322.8ZM400.0 2322.8V2321.2H431.1V2322.8ZM447.8 2322.8V2321.2H463.3V2322.8ZM475.6 2322.8V2321.2H490.0V2322.8ZM507.8 2322.8V2320.6H515.6V2322.8ZM515.6 2322.8V2318.4H521.1V2322.8ZM521.1 2322.8V2321.2H526.7V2322.8ZM596.7 2322.8V2321.2H607.8V2322.8ZM625.6 2322.8V2320.6H633.3V2322.8ZM677.8 2322.8V2321.2H690.0V2322.8ZM690.0 2322.8V2321.2H712.2V2322.8ZM766.7 2322.8V2320.6H774.4V2322.8ZM790.0 2322.8V2321.2H830.0V2322.8ZM910.0 2322.8V2321.2H922.2V2322.8ZM973.3 2322.8V2321.2H980.0V2322.8ZM991.1 2322.8V2321.2H1023.3V2322.8ZM1093.3 2322.8V2321.2H1113.3V2322.8ZM1113.3 2322.8V2321.8H1131.1V2322.8ZM1131.1 2322.8V2321.2H1153.3V2322.8ZM1153.3 2322.8V2318.4H1160.0V2322.8ZM1160.0 2322.8V2321.2H1183.3V2322.8ZM1212.2 2322.8V2321.2H1221.1V2322.8ZM1231.1 2322.8V2321.8H1253.3V2322.8Z" fill="#9e1a1f"/>
<path d="M154.4 2398.8V2386.6H163.3V2398.8ZM168.9 2398.8V2393.2H173.3V2398.8ZM173.3 2398.8V2386.6H175.6V2398.8ZM175.6 2398.8V2393.2H182.2V2398.8ZM185.6 2398.8V2393.2H187.8V2398.8ZM187.8 2398.8V2386.6H191.1V2398.8ZM191.1 2398.8V2365.5H195.6V2398.8ZM195.6 2398.8V2372.1H198.9V2398.8ZM198.9 2398.8V2386.6H202.2V2398.8ZM202.2 2398.8V2365.5H205.1V2398.8ZM205.1 2398.8V2378.8H207.8V2398.8ZM207.8 2398.8V2372.1H211.1V2398.8ZM211.1 2398.8V2393.2H216.7V2398.8ZM216.7 2398.8V2386.6H220.0V2398.8ZM220.0 2398.8V2378.8H225.6V2398.8ZM225.6 2398.8V2365.5H230.0V2398.8ZM230.0 2398.8V2349.9H233.3V2398.8ZM233.3 2398.8V2335.5H236.7V2398.8ZM236.7 2398.8V2349.9H244.4V2398.8ZM244.4 2398.8V2357.7H246.7V2398.8ZM246.7 2398.8V2372.1H250.0V2398.8ZM250.0 2398.8V2378.8H253.3V2398.8ZM253.3 2398.8V2386.6H255.6V2398.8ZM255.6 2398.8V2372.1H257.8V2398.8ZM257.8 2398.8V2349.9H260.0V2398.8ZM260.0 2398.8V2357.7H263.3V2398.8ZM263.3 2398.8V2393.2H270.0V2398.8ZM275.6 2398.8V2393.2H277.8V2398.8ZM277.8 2398.8V2386.6H282.2V2398.8ZM282.2 2398.8V2393.2H290.0V2398.8ZM290.0 2398.8V2372.1H296.7V2398.8ZM296.7 2398.8V2379.9H300.0V2398.8ZM300.0 2398.8V2393.2H312.2V2398.8ZM320.0 2398.8V2393.2H334.4V2398.8ZM338.9 2398.8V2393.2H343.3V2398.8ZM343.3 2398.8V2386.6H350.0V2398.8ZM350.0 2398.8V2393.2H351.1V2398.8ZM351.1 2398.8V2386.6H354.4V2398.8ZM354.4 2398.8V2393.2H376.7V2398.8ZM398.9 2398.8V2393.2H400.0V2398.8ZM400.0 2398.8V2393.2H415.6V2398.8ZM535.6 2398.8V2393.2H543.3V2398.8ZM545.6 2398.8V2393.2H550.0V2398.8ZM550.0 2398.8V2378.8H553.3V2398.8ZM553.3 2398.8V2386.6H557.8V2398.8ZM564.4 2398.8V2393.2H566.7V2398.8ZM566.7 2398.8V2386.6H570.0V2398.8ZM570.0 2398.8V2378.8H572.2V2398.8ZM572.2 2398.8V2386.6H578.9V2398.8ZM588.9 2398.8V2393.2H600.0V2398.8ZM600.0 2398.8V2386.6H604.4V2398.8ZM604.4 2398.8V2393.2H607.8V2398.8ZM627.8 2398.8V2393.2H635.6V2398.8ZM642.2 2398.8V2393.2H648.9V2398.8ZM666.7 2398.8V2393.2H670.0V2398.8ZM670.0 2398.8V2378.8H676.7V2398.8ZM676.7 2398.8V2386.6H685.6V2398.8ZM685.6 2398.8V2393.2H690.0V2398.8ZM778.9 2398.8V2393.2H783.3V2398.8ZM783.3 2398.8V2386.6H786.7V2398.8ZM786.7 2398.8V2393.2H790.4V2398.8ZM868.9 2398.8V2393.2H875.6V2398.8ZM881.6 2398.8V2393.2H888.9V2398.8ZM936.7 2398.8V2393.2H943.8V2398.8ZM954.4 2398.8V2393.2H961.6V2398.8ZM968.9 2398.8V2393.2H976.2V2398.8ZM984.0 2398.8V2393.2H992.2V2398.8ZM1037.8 2398.8V2393.2H1054.0V2398.8ZM1093.3 2398.8V2393.2H1106.2V2398.8ZM1106.2 2398.8V2378.8H1108.4V2398.8ZM1108.4 2398.8V2386.6H1114.4V2398.8ZM1126.2 2398.8V2393.2H1133.8V2398.8ZM1135.6 2398.8V2393.2H1142.7V2398.8ZM1153.3 2398.8V2386.6H1161.1V2398.8ZM1161.1 2398.8V2393.2H1167.8V2398.8ZM1167.8 2398.8V2386.6H1176.0V2398.8ZM1191.1 2398.8V2393.2H1198.9V2398.8ZM1206.2 2398.8V2393.2H1212.2V2398.8ZM1212.2 2398.8V2386.6H1212.9V2398.8ZM1212.9 2398.8V2378.8H1214.4V2398.8ZM1214.4 2398.8V2386.6H1216.0V2398.8ZM1216.0 2398.8V2393.2H1226.7V2398.8ZM1247.8 2398.8V2393.2H1251.1V2398.8ZM1251.1 2398.8V2386.6H1256.7V2398.8Z" fill="#2c3995"/>
<path d="M132.2 2474.4V2473.4H134.4V2474.4ZM218.9 2474.4V2472.9H221.1V2474.4Z" fill="#1f918c"/>
<line x1="111.20" y1="1638.50" x2="1267.80" y2="1638.50" stroke="#000" stroke-width="2.0" />
<line x1="111.20" y1="1714.00" x2="1267.80" y2="1714.00" stroke="#000" stroke-width="2.0" />
<line x1="111.20" y1="1790.50" x2="1267.80" y2="1790.50" stroke="#000" stroke-width="2.0" />
<line x1="111.20" y1="1866.60" x2="1267.80" y2="1866.60" stroke="#000" stroke-width="2.0" />
<line x1="111.20" y1="1941.20" x2="1267.80" y2="1941.20" stroke="#000" stroke-width="2.0" />
<line x1="111.20" y1="2019.00" x2="1267.80" y2="2019.00" stroke="#000" stroke-width="2.0" />
<line x1="111.20" y1="2093.30" x2="1267.80" y2="2093.30" stroke="#000" stroke-width="2.0" />
<line x1="111.20" y1="2170.20" x2="1267.80" y2="2170.20" stroke="#000" stroke-width="2.0" />
<line x1="111.20" y1="2246.20" x2="1267.80" y2="2246.20" stroke="#000" stroke-width="2.0" />
<line x1="111.20" y1="2322.80" x2="1267.80" y2="2322.80" stroke="#000" stroke-width="2.0" />
<line x1="111.20" y1="2398.80" x2="1267.80" y2="2398.80" stroke="#000" stroke-width="2.0" />
<rect x="111.2" y="1560.9" width="1156.60" height="913.50" fill="none" stroke="#000" stroke-width="3.6"/>
<text transform="translate(1271.37,1575.60) scale(0.9897,1)" font-size="20.2" font-weight="bold" font-style="normal" fill="#000">883</text>
<text transform="translate(1270.38,1637.00) scale(1.0305,1)" font-size="20.2" font-weight="bold" font-style="normal" fill="#000">0</text>
<text transform="translate(1271.37,1653.60) scale(0.9897,1)" font-size="20.2" font-weight="bold" font-style="normal" fill="#000">883</text>
<text transform="translate(1270.38,1712.50) scale(1.0305,1)" font-size="20.2" font-weight="bold" font-style="normal" fill="#000">0</text>
<text transform="translate(1271.37,1729.10) scale(0.9897,1)" font-size="20.2" font-weight="bold" font-style="normal" fill="#000">883</text>
<text transform="translate(1270.38,1789.00) scale(1.0305,1)" font-size="20.2" font-weight="bold" font-style="normal" fill="#000">0</text>
<text transform="translate(1271.37,1805.60) scale(0.9897,1)" font-size="20.2" font-weight="bold" font-style="normal" fill="#000">883</text>
<text transform="translate(1270.38,1865.10) scale(1.0305,1)" font-size="20.2" font-weight="bold" font-style="normal" fill="#000">0</text>
<text transform="translate(1271.27,1881.70) scale(0.9876,1)" font-size="20.2" font-weight="bold" font-style="normal" fill="#000">691</text>
<text transform="translate(1270.38,1939.70) scale(1.0305,1)" font-size="20.2" font-weight="bold" font-style="normal" fill="#000">0</text>
<text transform="translate(1271.27,1956.30) scale(0.9876,1)" font-size="20.2" font-weight="bold" font-style="normal" fill="#000">691</text>
<text transform="translate(1270.38,2017.50) scale(1.0305,1)" font-size="20.2" font-weight="bold" font-style="normal" fill="#000">0</text>
<text transform="translate(1271.27,2034.10) scale(0.9876,1)" font-size="20.2" font-weight="bold" font-style="normal" fill="#000">691</text>
<text transform="translate(1270.38,2091.80) scale(1.0305,1)" font-size="20.2" font-weight="bold" font-style="normal" fill="#000">0</text>
<text transform="translate(1271.27,2108.40) scale(0.9876,1)" font-size="20.2" font-weight="bold" font-style="normal" fill="#000">691</text>
<text transform="translate(1270.38,2168.70) scale(1.0305,1)" font-size="20.2" font-weight="bold" font-style="normal" fill="#000">0</text>
<text transform="translate(1270.72,2185.30) scale(1.0094,1)" font-size="20.2" font-weight="bold" font-style="normal" fill="#000">173</text>
<text transform="translate(1270.38,2244.70) scale(1.0305,1)" font-size="20.2" font-weight="bold" font-style="normal" fill="#000">0</text>
<text transform="translate(1270.72,2261.30) scale(1.0094,1)" font-size="20.2" font-weight="bold" font-style="normal" fill="#000">173</text>
<text transform="translate(1270.38,2321.30) scale(1.0305,1)" font-size="20.2" font-weight="bold" font-style="normal" fill="#000">0</text>
<text transform="translate(1270.72,2337.90) scale(1.0094,1)" font-size="20.2" font-weight="bold" font-style="normal" fill="#000">173</text>
<text transform="translate(1270.38,2397.30) scale(1.0305,1)" font-size="20.2" font-weight="bold" font-style="normal" fill="#000">0</text>
<text transform="translate(1270.72,2413.90) scale(1.0094,1)" font-size="20.2" font-weight="bold" font-style="normal" fill="#000">173</text>
<text transform="translate(1270.38,2474.00) scale(1.0305,1)" font-size="20.2" font-weight="bold" font-style="normal" fill="#000">0</text>
<text transform="translate(1153.90,1591.80) scale(1.0101,1)" font-size="20.8" font-weight="normal" font-style="normal" fill="#000">1Kb</text>
<rect x="1134.80" y="1595.80" width="82.20" height="4.00" fill="#000"/>
<line x1="55.80" y1="1589.90" x2="55.80" y2="2431.00" stroke="#000" stroke-width="3.0" />
<line x1="99.40" y1="1572.00" x2="99.40" y2="1841.30" stroke="#000" stroke-width="3.0" />
<line x1="99.40" y1="1879.90" x2="99.40" y2="2148.40" stroke="#000" stroke-width="3.0" />
<line x1="99.40" y1="2185.40" x2="99.40" y2="2454.00" stroke="#000" stroke-width="3.0" />
<text transform="translate(36.00,2126.47) rotate(-90) scale(0.9429,1)" font-size="26.5" font-weight="bold">H3K27ac CUT&RUN</text>
<text transform="translate(91.50,1779.36) rotate(-90) scale(0.9554,1)" font-size="26" font-weight="bold">Bio Rep 3</text>
<text transform="translate(91.30,2086.68) rotate(-90) scale(0.9648,1)" font-size="26" font-weight="bold">Bio Rep 2</text>
<text transform="translate(91.30,2382.73) rotate(-90) scale(0.9349,1)" font-size="26" font-weight="bold">Bio.Rep 1</text>
<text transform="translate(191.11,2518.40) scale(0.9412,1)" font-size="26" font-weight="bold" font-style="italic" fill="#000">Gsta1</text>
<line x1="282.60" y1="2508.50" x2="1223.60" y2="2508.50" stroke="#000" stroke-width="2.7" />
<rect x="274.40" y="2498.30" width="8.20" height="20.60" fill="#000"/>
<rect x="401.00" y="2491.40" width="8.60" height="33.90" fill="#000"/>
<rect x="629.60" y="2491.40" width="7.30" height="33.90" fill="#000"/>
<rect x="698.70" y="2491.40" width="12.50" height="33.90" fill="#000"/>
<rect x="984.80" y="2491.40" width="14.00" height="33.90" fill="#000"/>
<rect x="1148.50" y="2491.40" width="13.40" height="33.90" fill="#000"/>
<rect x="1223.60" y="2491.40" width="12.30" height="33.90" fill="#000"/>
<rect x="1235.90" y="2498.10" width="9.00" height="20.40" fill="#000"/>
<path d="M288.1 2500.7L290.7 2508.4L288.1 2516.1M307.7 2500.7L310.3 2508.4L307.7 2516.1M327.2 2500.7L329.8 2508.4L327.2 2516.1M346.7 2500.7L349.3 2508.4L346.7 2516.1M366.2 2500.7L368.8 2508.4L366.2 2516.1M385.2 2500.7L387.8 2508.4L385.2 2516.1M416.7 2500.7L419.3 2508.4L416.7 2516.1M436.2 2500.7L438.8 2508.4L436.2 2516.1M455.7 2500.7L458.3 2508.4L455.7 2516.1M474.9 2500.7L477.5 2508.4L474.9 2516.1M494.2 2500.7L496.8 2508.4L494.2 2516.1M513.5 2500.7L516.1 2508.4L513.5 2516.1M532.8 2500.7L535.4 2508.4L532.8 2516.1M552.1 2500.7L554.7 2508.4L552.1 2516.1M571.4 2500.7L574.0 2508.4L571.4 2516.1M590.7 2500.7L593.3 2508.4L590.7 2516.1M611.7 2500.7L614.3 2508.4L611.7 2516.1M643.2 2500.7L645.8 2508.4L643.2 2516.1M663.0 2500.7L665.6 2508.4L663.0 2516.1M682.7 2500.7L685.3 2508.4L682.7 2516.1M715.7 2500.7L718.3 2508.4L715.7 2516.1M736.0 2500.7L738.6 2508.4L736.0 2516.1M756.4 2500.7L759.0 2508.4L756.4 2516.1M776.7 2500.7L779.3 2508.4L776.7 2516.1M796.1 2500.7L798.7 2508.4L796.1 2516.1M816.5 2500.7L819.1 2508.4L816.5 2516.1M835.8 2500.7L838.4 2508.4L835.8 2516.1M855.1 2500.7L857.7 2508.4L855.1 2516.1M875.5 2500.7L878.1 2508.4L875.5 2516.1M896.2 2500.7L898.8 2508.4L896.2 2516.1M916.0 2500.7L918.6 2508.4L916.0 2516.1M936.1 2500.7L938.7 2508.4L936.1 2516.1M955.9 2500.7L958.5 2508.4L955.9 2516.1M976.3 2500.7L978.9 2508.4L976.3 2516.1M1004.5 2500.7L1007.1 2508.4L1004.5 2516.1M1024.3 2500.7L1026.9 2508.4L1024.3 2516.1M1044.7 2500.7L1047.3 2508.4L1044.7 2516.1M1064.2 2500.7L1066.8 2508.4L1064.2 2516.1M1084.0 2500.7L1086.6 2508.4L1084.0 2516.1M1104.4 2500.7L1107.0 2508.4L1104.4 2516.1M1123.9 2500.7L1126.5 2508.4L1123.9 2516.1M1144.0 2500.7L1146.6 2508.4L1144.0 2516.1M1167.9 2500.7L1170.5 2508.4L1167.9 2516.1M1187.9 2500.7L1190.5 2508.4L1187.9 2516.1M1207.7 2500.7L1210.3 2508.4L1207.7 2516.1" fill="none" stroke="#000" stroke-width="2.9" stroke-linejoin="miter" stroke-linecap="butt"/>
</svg>
</body></html>
